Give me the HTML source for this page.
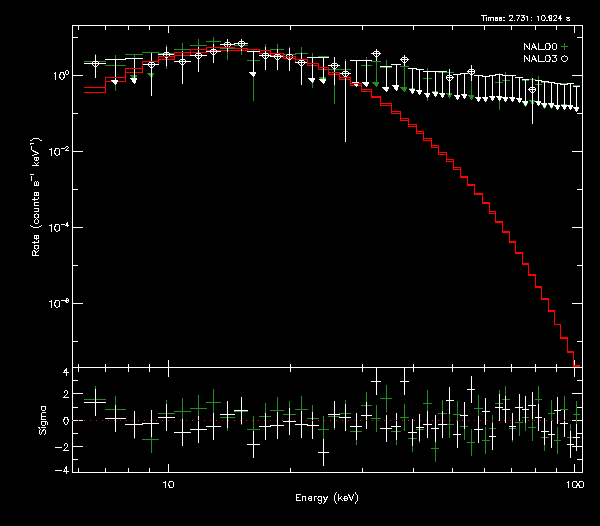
<!DOCTYPE html>
<html><head><meta charset="utf-8"><title>Spectrum</title>
<style>html,body{margin:0;padding:0;background:#000;font-family:"Liberation Sans",sans-serif;}svg{display:block}</style>
</head><body><svg width="600" height="526" viewBox="0 0 600 526" shape-rendering="crispEdges"><rect x="72" y="25" width="511" height="1" fill="#ffffff"/>
<rect x="72" y="367" width="511" height="1" fill="#ffffff"/>
<rect x="72" y="25" width="1" height="343" fill="#ffffff"/>
<rect x="582" y="25" width="1" height="343" fill="#ffffff"/>
<rect x="78" y="25" width="1" height="5" fill="#ffffff"/>
<rect x="78" y="364" width="1" height="4" fill="#ffffff"/>
<rect x="105" y="25" width="1" height="5" fill="#ffffff"/>
<rect x="105" y="364" width="1" height="4" fill="#ffffff"/>
<rect x="128" y="25" width="1" height="5" fill="#ffffff"/>
<rect x="128" y="364" width="1" height="4" fill="#ffffff"/>
<rect x="149" y="25" width="1" height="5" fill="#ffffff"/>
<rect x="149" y="364" width="1" height="4" fill="#ffffff"/>
<rect x="168" y="25" width="1" height="8" fill="#ffffff"/>
<rect x="168" y="360" width="1" height="8" fill="#ffffff"/>
<rect x="290" y="25" width="1" height="5" fill="#ffffff"/>
<rect x="290" y="364" width="1" height="4" fill="#ffffff"/>
<rect x="362" y="25" width="1" height="5" fill="#ffffff"/>
<rect x="362" y="364" width="1" height="4" fill="#ffffff"/>
<rect x="413" y="25" width="1" height="5" fill="#ffffff"/>
<rect x="413" y="364" width="1" height="4" fill="#ffffff"/>
<rect x="452" y="25" width="1" height="5" fill="#ffffff"/>
<rect x="452" y="364" width="1" height="4" fill="#ffffff"/>
<rect x="484" y="25" width="1" height="5" fill="#ffffff"/>
<rect x="484" y="364" width="1" height="4" fill="#ffffff"/>
<rect x="511" y="25" width="1" height="5" fill="#ffffff"/>
<rect x="511" y="364" width="1" height="4" fill="#ffffff"/>
<rect x="535" y="25" width="1" height="5" fill="#ffffff"/>
<rect x="535" y="364" width="1" height="4" fill="#ffffff"/>
<rect x="556" y="25" width="1" height="5" fill="#ffffff"/>
<rect x="556" y="364" width="1" height="4" fill="#ffffff"/>
<rect x="574" y="25" width="1" height="8" fill="#ffffff"/>
<rect x="574" y="360" width="1" height="8" fill="#ffffff"/>
<rect x="72" y="341" width="6" height="1" fill="#ffffff"/>
<rect x="577" y="341" width="6" height="1" fill="#ffffff"/>
<rect x="72" y="303" width="11" height="1" fill="#ffffff"/>
<rect x="572" y="303" width="11" height="1" fill="#ffffff"/>
<rect x="72" y="265" width="6" height="1" fill="#ffffff"/>
<rect x="577" y="265" width="6" height="1" fill="#ffffff"/>
<rect x="72" y="227" width="11" height="1" fill="#ffffff"/>
<rect x="572" y="227" width="11" height="1" fill="#ffffff"/>
<rect x="72" y="189" width="6" height="1" fill="#ffffff"/>
<rect x="577" y="189" width="6" height="1" fill="#ffffff"/>
<rect x="72" y="151" width="11" height="1" fill="#ffffff"/>
<rect x="572" y="151" width="11" height="1" fill="#ffffff"/>
<rect x="72" y="113" width="6" height="1" fill="#ffffff"/>
<rect x="577" y="113" width="6" height="1" fill="#ffffff"/>
<rect x="72" y="75" width="11" height="1" fill="#ffffff"/>
<rect x="572" y="75" width="11" height="1" fill="#ffffff"/>
<rect x="72" y="37" width="6" height="1" fill="#ffffff"/>
<rect x="577" y="37" width="6" height="1" fill="#ffffff"/>
<rect x="84" y="61" width="22" height="1" fill="#228b22"/>
<rect x="95" y="54" width="1" height="23" fill="#228b22"/>
<rect x="92" y="61" width="7" height="1" fill="#228b22"/>
<rect x="95" y="58" width="1" height="7" fill="#228b22"/>
<rect x="105" y="65" width="21" height="1" fill="#228b22"/>
<rect x="115" y="55" width="1" height="36" fill="#228b22"/>
<rect x="112" y="65" width="7" height="1" fill="#228b22"/>
<rect x="115" y="62" width="1" height="7" fill="#228b22"/>
<rect x="125" y="54" width="18" height="1" fill="#228b22"/>
<rect x="134" y="54" width="1" height="26" fill="#228b22"/>
<rect x="134" y="79" width="1" height="1" fill="#228b22"/>
<rect x="133" y="78" width="3" height="1" fill="#228b22"/>
<rect x="132" y="77" width="4" height="1" fill="#228b22"/>
<rect x="131" y="76" width="6" height="1" fill="#228b22"/>
<rect x="130" y="75" width="7" height="1" fill="#228b22"/>
<rect x="142" y="52" width="17" height="1" fill="#228b22"/>
<rect x="151" y="52" width="1" height="26" fill="#228b22"/>
<rect x="151" y="77" width="1" height="1" fill="#228b22"/>
<rect x="150" y="76" width="3" height="1" fill="#228b22"/>
<rect x="149" y="75" width="4" height="1" fill="#228b22"/>
<rect x="148" y="74" width="6" height="1" fill="#228b22"/>
<rect x="147" y="73" width="7" height="1" fill="#228b22"/>
<rect x="158" y="53" width="17" height="1" fill="#228b22"/>
<rect x="166" y="45" width="1" height="24" fill="#228b22"/>
<rect x="163" y="53" width="7" height="1" fill="#228b22"/>
<rect x="166" y="50" width="1" height="7" fill="#228b22"/>
<rect x="174" y="49" width="17" height="1" fill="#228b22"/>
<rect x="182" y="43" width="1" height="15" fill="#228b22"/>
<rect x="179" y="49" width="7" height="1" fill="#228b22"/>
<rect x="182" y="46" width="1" height="7" fill="#228b22"/>
<rect x="190" y="45" width="17" height="1" fill="#228b22"/>
<rect x="198" y="39" width="1" height="15" fill="#228b22"/>
<rect x="195" y="45" width="7" height="1" fill="#228b22"/>
<rect x="198" y="42" width="1" height="7" fill="#228b22"/>
<rect x="206" y="41" width="15" height="1" fill="#228b22"/>
<rect x="213" y="37" width="1" height="11" fill="#228b22"/>
<rect x="210" y="41" width="7" height="1" fill="#228b22"/>
<rect x="213" y="38" width="1" height="7" fill="#228b22"/>
<rect x="220" y="48" width="15" height="1" fill="#228b22"/>
<rect x="227" y="42" width="1" height="18" fill="#228b22"/>
<rect x="224" y="48" width="7" height="1" fill="#228b22"/>
<rect x="227" y="45" width="1" height="7" fill="#228b22"/>
<rect x="234" y="45" width="14" height="1" fill="#228b22"/>
<rect x="241" y="40" width="1" height="15" fill="#228b22"/>
<rect x="238" y="45" width="7" height="1" fill="#228b22"/>
<rect x="241" y="42" width="1" height="7" fill="#228b22"/>
<rect x="247" y="60" width="13" height="1" fill="#228b22"/>
<rect x="253" y="50" width="1" height="51" fill="#228b22"/>
<rect x="250" y="60" width="7" height="1" fill="#228b22"/>
<rect x="253" y="57" width="1" height="7" fill="#228b22"/>
<rect x="259" y="50" width="12" height="1" fill="#228b22"/>
<rect x="265" y="44" width="1" height="17" fill="#228b22"/>
<rect x="262" y="50" width="7" height="1" fill="#228b22"/>
<rect x="265" y="47" width="1" height="7" fill="#228b22"/>
<rect x="270" y="49" width="14" height="1" fill="#228b22"/>
<rect x="277" y="44" width="1" height="13" fill="#228b22"/>
<rect x="274" y="49" width="7" height="1" fill="#228b22"/>
<rect x="277" y="46" width="1" height="7" fill="#228b22"/>
<rect x="283" y="54" width="13" height="1" fill="#228b22"/>
<rect x="289" y="47" width="1" height="18" fill="#228b22"/>
<rect x="286" y="54" width="7" height="1" fill="#228b22"/>
<rect x="289" y="51" width="1" height="7" fill="#228b22"/>
<rect x="295" y="53" width="13" height="1" fill="#228b22"/>
<rect x="301" y="47" width="1" height="16" fill="#228b22"/>
<rect x="298" y="53" width="7" height="1" fill="#228b22"/>
<rect x="301" y="50" width="1" height="7" fill="#228b22"/>
<rect x="307" y="63" width="12" height="1" fill="#228b22"/>
<rect x="312" y="53" width="1" height="35" fill="#228b22"/>
<rect x="309" y="63" width="7" height="1" fill="#228b22"/>
<rect x="312" y="60" width="1" height="7" fill="#228b22"/>
<rect x="318" y="56" width="11" height="1" fill="#228b22"/>
<rect x="323" y="56" width="1" height="26" fill="#228b22"/>
<rect x="323" y="81" width="1" height="1" fill="#228b22"/>
<rect x="322" y="80" width="3" height="1" fill="#228b22"/>
<rect x="321" y="79" width="4" height="1" fill="#228b22"/>
<rect x="320" y="78" width="6" height="1" fill="#228b22"/>
<rect x="319" y="77" width="7" height="1" fill="#228b22"/>
<rect x="328" y="69" width="12" height="1" fill="#228b22"/>
<rect x="334" y="57" width="1" height="47" fill="#228b22"/>
<rect x="331" y="69" width="7" height="1" fill="#228b22"/>
<rect x="334" y="66" width="1" height="7" fill="#228b22"/>
<rect x="339" y="69" width="12" height="1" fill="#228b22"/>
<rect x="345" y="59" width="1" height="27" fill="#228b22"/>
<rect x="342" y="69" width="7" height="1" fill="#228b22"/>
<rect x="345" y="66" width="1" height="7" fill="#228b22"/>
<rect x="361" y="65" width="11" height="1" fill="#228b22"/>
<rect x="366" y="57" width="1" height="24" fill="#228b22"/>
<rect x="363" y="65" width="7" height="1" fill="#228b22"/>
<rect x="366" y="62" width="1" height="7" fill="#228b22"/>
<rect x="371" y="61" width="10" height="1" fill="#228b22"/>
<rect x="376" y="61" width="1" height="26" fill="#228b22"/>
<rect x="376" y="86" width="1" height="1" fill="#228b22"/>
<rect x="375" y="85" width="3" height="1" fill="#228b22"/>
<rect x="374" y="84" width="4" height="1" fill="#228b22"/>
<rect x="373" y="83" width="6" height="1" fill="#228b22"/>
<rect x="372" y="82" width="7" height="1" fill="#228b22"/>
<rect x="380" y="67" width="12" height="1" fill="#228b22"/>
<rect x="386" y="60" width="1" height="26" fill="#228b22"/>
<rect x="383" y="67" width="7" height="1" fill="#228b22"/>
<rect x="386" y="64" width="1" height="7" fill="#228b22"/>
<rect x="400" y="66" width="9" height="1" fill="#228b22"/>
<rect x="404" y="66" width="1" height="26" fill="#228b22"/>
<rect x="404" y="91" width="1" height="1" fill="#228b22"/>
<rect x="403" y="90" width="3" height="1" fill="#228b22"/>
<rect x="402" y="89" width="4" height="1" fill="#228b22"/>
<rect x="401" y="88" width="6" height="1" fill="#228b22"/>
<rect x="400" y="87" width="7" height="1" fill="#228b22"/>
<rect x="412" y="69" width="1" height="24" fill="#228b22"/>
<rect x="412" y="92" width="1" height="1" fill="#228b22"/>
<rect x="411" y="91" width="3" height="1" fill="#228b22"/>
<rect x="411" y="90" width="3" height="1" fill="#228b22"/>
<rect x="410" y="89" width="5" height="1" fill="#228b22"/>
<rect x="409" y="88" width="6" height="1" fill="#228b22"/>
<rect x="423" y="78" width="9" height="1" fill="#228b22"/>
<rect x="427" y="68" width="1" height="33" fill="#228b22"/>
<rect x="424" y="78" width="7" height="1" fill="#228b22"/>
<rect x="427" y="75" width="1" height="7" fill="#228b22"/>
<rect x="435" y="72" width="1" height="24" fill="#228b22"/>
<rect x="435" y="95" width="1" height="1" fill="#228b22"/>
<rect x="434" y="94" width="3" height="1" fill="#228b22"/>
<rect x="434" y="93" width="3" height="1" fill="#228b22"/>
<rect x="433" y="92" width="5" height="1" fill="#228b22"/>
<rect x="432" y="91" width="6" height="1" fill="#228b22"/>
<rect x="438" y="72" width="9" height="1" fill="#228b22"/>
<rect x="442" y="72" width="1" height="26" fill="#228b22"/>
<rect x="442" y="97" width="1" height="1" fill="#228b22"/>
<rect x="441" y="96" width="3" height="1" fill="#228b22"/>
<rect x="441" y="95" width="3" height="1" fill="#228b22"/>
<rect x="440" y="94" width="5" height="1" fill="#228b22"/>
<rect x="439" y="93" width="6" height="1" fill="#228b22"/>
<rect x="446" y="72" width="8" height="1" fill="#228b22"/>
<rect x="449" y="72" width="1" height="26" fill="#228b22"/>
<rect x="449" y="97" width="1" height="1" fill="#228b22"/>
<rect x="448" y="96" width="3" height="1" fill="#228b22"/>
<rect x="448" y="95" width="3" height="1" fill="#228b22"/>
<rect x="447" y="94" width="5" height="1" fill="#228b22"/>
<rect x="446" y="93" width="6" height="1" fill="#228b22"/>
<rect x="467" y="73" width="8" height="1" fill="#228b22"/>
<rect x="471" y="73" width="1" height="27" fill="#228b22"/>
<rect x="471" y="99" width="1" height="1" fill="#228b22"/>
<rect x="470" y="98" width="3" height="1" fill="#228b22"/>
<rect x="470" y="97" width="3" height="1" fill="#228b22"/>
<rect x="469" y="96" width="5" height="1" fill="#228b22"/>
<rect x="468" y="95" width="6" height="1" fill="#228b22"/>
<rect x="495" y="82" width="8" height="1" fill="#228b22"/>
<rect x="499" y="73" width="1" height="37" fill="#228b22"/>
<rect x="496" y="82" width="7" height="1" fill="#228b22"/>
<rect x="499" y="79" width="1" height="7" fill="#228b22"/>
<rect x="502" y="80" width="8" height="1" fill="#228b22"/>
<rect x="505" y="72" width="1" height="29" fill="#228b22"/>
<rect x="502" y="80" width="7" height="1" fill="#228b22"/>
<rect x="505" y="77" width="1" height="7" fill="#228b22"/>
<rect x="522" y="80" width="7" height="1" fill="#228b22"/>
<rect x="525" y="80" width="1" height="27" fill="#228b22"/>
<rect x="525" y="106" width="1" height="1" fill="#228b22"/>
<rect x="524" y="105" width="3" height="1" fill="#228b22"/>
<rect x="524" y="104" width="3" height="1" fill="#228b22"/>
<rect x="523" y="103" width="5" height="1" fill="#228b22"/>
<rect x="522" y="102" width="6" height="1" fill="#228b22"/>
<rect x="528" y="79" width="8" height="1" fill="#228b22"/>
<rect x="532" y="79" width="1" height="26" fill="#228b22"/>
<rect x="532" y="104" width="1" height="1" fill="#228b22"/>
<rect x="531" y="103" width="3" height="1" fill="#228b22"/>
<rect x="531" y="102" width="3" height="1" fill="#228b22"/>
<rect x="530" y="101" width="5" height="1" fill="#228b22"/>
<rect x="529" y="100" width="6" height="1" fill="#228b22"/>
<rect x="535" y="84" width="7" height="1" fill="#228b22"/>
<rect x="538" y="76" width="1" height="25" fill="#228b22"/>
<rect x="535" y="84" width="7" height="1" fill="#228b22"/>
<rect x="538" y="81" width="1" height="7" fill="#228b22"/>
<rect x="541" y="82" width="8" height="1" fill="#228b22"/>
<rect x="544" y="82" width="1" height="27" fill="#228b22"/>
<rect x="544" y="108" width="1" height="1" fill="#228b22"/>
<rect x="543" y="107" width="3" height="1" fill="#228b22"/>
<rect x="543" y="106" width="3" height="1" fill="#228b22"/>
<rect x="542" y="105" width="5" height="1" fill="#228b22"/>
<rect x="541" y="104" width="6" height="1" fill="#228b22"/>
<rect x="551" y="84" width="1" height="25" fill="#228b22"/>
<rect x="551" y="108" width="1" height="1" fill="#228b22"/>
<rect x="550" y="107" width="3" height="1" fill="#228b22"/>
<rect x="550" y="106" width="3" height="1" fill="#228b22"/>
<rect x="549" y="105" width="5" height="1" fill="#228b22"/>
<rect x="548" y="104" width="6" height="1" fill="#228b22"/>
<rect x="560" y="83" width="8" height="1" fill="#228b22"/>
<rect x="564" y="83" width="1" height="26" fill="#228b22"/>
<rect x="564" y="108" width="1" height="1" fill="#228b22"/>
<rect x="563" y="107" width="3" height="1" fill="#228b22"/>
<rect x="563" y="106" width="3" height="1" fill="#228b22"/>
<rect x="562" y="105" width="5" height="1" fill="#228b22"/>
<rect x="561" y="104" width="6" height="1" fill="#228b22"/>
<rect x="573" y="85" width="7" height="1" fill="#228b22"/>
<rect x="576" y="85" width="1" height="27" fill="#228b22"/>
<rect x="576" y="111" width="1" height="1" fill="#228b22"/>
<rect x="575" y="110" width="3" height="1" fill="#228b22"/>
<rect x="575" y="109" width="3" height="1" fill="#228b22"/>
<rect x="574" y="108" width="5" height="1" fill="#228b22"/>
<rect x="573" y="107" width="6" height="1" fill="#228b22"/>
<rect x="84" y="92" width="22" height="1" fill="#ff0000"/>
<rect x="105" y="81" width="1" height="12" fill="#ff0000"/>
<rect x="105" y="81" width="21" height="1" fill="#ff0000"/>
<rect x="125" y="72" width="1" height="10" fill="#ff0000"/>
<rect x="125" y="72" width="18" height="1" fill="#ff0000"/>
<rect x="142" y="64" width="1" height="9" fill="#ff0000"/>
<rect x="142" y="64" width="17" height="1" fill="#ff0000"/>
<rect x="158" y="59" width="1" height="6" fill="#ff0000"/>
<rect x="158" y="59" width="17" height="1" fill="#ff0000"/>
<rect x="174" y="55" width="1" height="5" fill="#ff0000"/>
<rect x="174" y="55" width="17" height="1" fill="#ff0000"/>
<rect x="190" y="52" width="1" height="4" fill="#ff0000"/>
<rect x="190" y="52" width="17" height="1" fill="#ff0000"/>
<rect x="206" y="50" width="1" height="3" fill="#ff0000"/>
<rect x="206" y="50" width="15" height="1" fill="#ff0000"/>
<rect x="220" y="50" width="1" height="1" fill="#ff0000"/>
<rect x="220" y="50" width="15" height="1" fill="#ff0000"/>
<rect x="234" y="50" width="1" height="1" fill="#ff0000"/>
<rect x="234" y="50" width="14" height="1" fill="#ff0000"/>
<rect x="247" y="50" width="1" height="2" fill="#ff0000"/>
<rect x="247" y="51" width="13" height="1" fill="#ff0000"/>
<rect x="259" y="51" width="1" height="3" fill="#ff0000"/>
<rect x="259" y="53" width="12" height="1" fill="#ff0000"/>
<rect x="270" y="53" width="1" height="3" fill="#ff0000"/>
<rect x="270" y="55" width="14" height="1" fill="#ff0000"/>
<rect x="283" y="55" width="1" height="4" fill="#ff0000"/>
<rect x="283" y="58" width="13" height="1" fill="#ff0000"/>
<rect x="295" y="58" width="1" height="5" fill="#ff0000"/>
<rect x="295" y="62" width="13" height="1" fill="#ff0000"/>
<rect x="307" y="62" width="1" height="4" fill="#ff0000"/>
<rect x="307" y="65" width="12" height="1" fill="#ff0000"/>
<rect x="318" y="65" width="1" height="5" fill="#ff0000"/>
<rect x="318" y="69" width="11" height="1" fill="#ff0000"/>
<rect x="328" y="69" width="1" height="6" fill="#ff0000"/>
<rect x="328" y="74" width="12" height="1" fill="#ff0000"/>
<rect x="339" y="74" width="1" height="6" fill="#ff0000"/>
<rect x="339" y="79" width="12" height="1" fill="#ff0000"/>
<rect x="350" y="79" width="1" height="7" fill="#ff0000"/>
<rect x="350" y="85" width="12" height="1" fill="#ff0000"/>
<rect x="361" y="85" width="1" height="7" fill="#ff0000"/>
<rect x="361" y="91" width="11" height="1" fill="#ff0000"/>
<rect x="371" y="91" width="1" height="7" fill="#ff0000"/>
<rect x="371" y="97" width="10" height="1" fill="#ff0000"/>
<rect x="380" y="97" width="1" height="9" fill="#ff0000"/>
<rect x="380" y="105" width="12" height="1" fill="#ff0000"/>
<rect x="391" y="105" width="1" height="9" fill="#ff0000"/>
<rect x="391" y="113" width="10" height="1" fill="#ff0000"/>
<rect x="400" y="113" width="1" height="8" fill="#ff0000"/>
<rect x="400" y="120" width="9" height="1" fill="#ff0000"/>
<rect x="408" y="120" width="1" height="7" fill="#ff0000"/>
<rect x="408" y="126" width="9" height="1" fill="#ff0000"/>
<rect x="416" y="126" width="1" height="8" fill="#ff0000"/>
<rect x="416" y="133" width="8" height="1" fill="#ff0000"/>
<rect x="423" y="133" width="1" height="8" fill="#ff0000"/>
<rect x="423" y="140" width="9" height="1" fill="#ff0000"/>
<rect x="431" y="140" width="1" height="8" fill="#ff0000"/>
<rect x="431" y="147" width="8" height="1" fill="#ff0000"/>
<rect x="438" y="147" width="1" height="8" fill="#ff0000"/>
<rect x="438" y="154" width="9" height="1" fill="#ff0000"/>
<rect x="446" y="154" width="1" height="8" fill="#ff0000"/>
<rect x="446" y="161" width="8" height="1" fill="#ff0000"/>
<rect x="453" y="161" width="1" height="9" fill="#ff0000"/>
<rect x="453" y="169" width="8" height="1" fill="#ff0000"/>
<rect x="460" y="169" width="1" height="9" fill="#ff0000"/>
<rect x="460" y="177" width="8" height="1" fill="#ff0000"/>
<rect x="467" y="177" width="1" height="9" fill="#ff0000"/>
<rect x="467" y="185" width="8" height="1" fill="#ff0000"/>
<rect x="474" y="185" width="1" height="10" fill="#ff0000"/>
<rect x="474" y="194" width="9" height="1" fill="#ff0000"/>
<rect x="482" y="194" width="1" height="10" fill="#ff0000"/>
<rect x="482" y="203" width="8" height="1" fill="#ff0000"/>
<rect x="489" y="203" width="1" height="11" fill="#ff0000"/>
<rect x="489" y="213" width="7" height="1" fill="#ff0000"/>
<rect x="495" y="213" width="1" height="10" fill="#ff0000"/>
<rect x="495" y="222" width="8" height="1" fill="#ff0000"/>
<rect x="502" y="222" width="1" height="11" fill="#ff0000"/>
<rect x="502" y="232" width="8" height="1" fill="#ff0000"/>
<rect x="509" y="232" width="1" height="11" fill="#ff0000"/>
<rect x="509" y="242" width="7" height="1" fill="#ff0000"/>
<rect x="515" y="242" width="1" height="12" fill="#ff0000"/>
<rect x="515" y="253" width="8" height="1" fill="#ff0000"/>
<rect x="522" y="253" width="1" height="12" fill="#ff0000"/>
<rect x="522" y="264" width="7" height="1" fill="#ff0000"/>
<rect x="528" y="264" width="1" height="12" fill="#ff0000"/>
<rect x="528" y="275" width="8" height="1" fill="#ff0000"/>
<rect x="535" y="275" width="1" height="13" fill="#ff0000"/>
<rect x="535" y="287" width="7" height="1" fill="#ff0000"/>
<rect x="541" y="287" width="1" height="13" fill="#ff0000"/>
<rect x="541" y="299" width="8" height="1" fill="#ff0000"/>
<rect x="548" y="299" width="1" height="13" fill="#ff0000"/>
<rect x="548" y="311" width="7" height="1" fill="#ff0000"/>
<rect x="554" y="311" width="1" height="14" fill="#ff0000"/>
<rect x="554" y="324" width="7" height="1" fill="#ff0000"/>
<rect x="560" y="324" width="1" height="15" fill="#ff0000"/>
<rect x="560" y="338" width="8" height="1" fill="#ff0000"/>
<rect x="567" y="338" width="1" height="15" fill="#ff0000"/>
<rect x="567" y="352" width="7" height="1" fill="#ff0000"/>
<rect x="573" y="352" width="1" height="15" fill="#ff0000"/>
<rect x="573" y="366" width="7" height="1" fill="#ff0000"/>
<rect x="84" y="63" width="22" height="1" fill="#ffffff"/>
<rect x="95" y="55" width="1" height="23" fill="#ffffff"/>
<rect x="95" y="60" width="1" height="1" fill="#ffffff"/>
<rect x="93" y="61" width="1" height="1" fill="#ffffff"/>
<rect x="94" y="61" width="1" height="1" fill="#ffffff"/>
<rect x="96" y="61" width="1" height="1" fill="#ffffff"/>
<rect x="97" y="61" width="1" height="1" fill="#ffffff"/>
<rect x="92" y="62" width="1" height="1" fill="#ffffff"/>
<rect x="98" y="62" width="1" height="1" fill="#ffffff"/>
<rect x="92" y="63" width="1" height="1" fill="#ffffff"/>
<rect x="98" y="63" width="1" height="1" fill="#ffffff"/>
<rect x="92" y="64" width="1" height="1" fill="#ffffff"/>
<rect x="98" y="64" width="1" height="1" fill="#ffffff"/>
<rect x="93" y="65" width="1" height="1" fill="#ffffff"/>
<rect x="97" y="65" width="1" height="1" fill="#ffffff"/>
<rect x="94" y="66" width="1" height="1" fill="#ffffff"/>
<rect x="95" y="66" width="1" height="1" fill="#ffffff"/>
<rect x="96" y="66" width="1" height="1" fill="#ffffff"/>
<rect x="105" y="59" width="21" height="1" fill="#ffffff"/>
<rect x="115" y="59" width="1" height="26" fill="#ffffff"/>
<rect x="115" y="84" width="1" height="1" fill="#ffffff"/>
<rect x="114" y="83" width="3" height="1" fill="#ffffff"/>
<rect x="113" y="82" width="4" height="1" fill="#ffffff"/>
<rect x="112" y="81" width="6" height="1" fill="#ffffff"/>
<rect x="111" y="80" width="7" height="1" fill="#ffffff"/>
<rect x="125" y="58" width="18" height="1" fill="#ffffff"/>
<rect x="134" y="58" width="1" height="26" fill="#ffffff"/>
<rect x="134" y="83" width="1" height="1" fill="#ffffff"/>
<rect x="133" y="82" width="3" height="1" fill="#ffffff"/>
<rect x="132" y="81" width="4" height="1" fill="#ffffff"/>
<rect x="132" y="80" width="4" height="1" fill="#ffffff"/>
<rect x="131" y="79" width="6" height="1" fill="#ffffff"/>
<rect x="130" y="78" width="7" height="1" fill="#ffffff"/>
<rect x="142" y="64" width="17" height="1" fill="#ffffff"/>
<rect x="151" y="53" width="1" height="43" fill="#ffffff"/>
<rect x="151" y="61" width="1" height="1" fill="#ffffff"/>
<rect x="149" y="62" width="1" height="1" fill="#ffffff"/>
<rect x="150" y="62" width="1" height="1" fill="#ffffff"/>
<rect x="152" y="62" width="1" height="1" fill="#ffffff"/>
<rect x="153" y="62" width="1" height="1" fill="#ffffff"/>
<rect x="148" y="63" width="1" height="1" fill="#ffffff"/>
<rect x="154" y="63" width="1" height="1" fill="#ffffff"/>
<rect x="148" y="64" width="1" height="1" fill="#ffffff"/>
<rect x="154" y="64" width="1" height="1" fill="#ffffff"/>
<rect x="148" y="65" width="1" height="1" fill="#ffffff"/>
<rect x="154" y="65" width="1" height="1" fill="#ffffff"/>
<rect x="149" y="66" width="1" height="1" fill="#ffffff"/>
<rect x="153" y="66" width="1" height="1" fill="#ffffff"/>
<rect x="150" y="67" width="1" height="1" fill="#ffffff"/>
<rect x="151" y="67" width="1" height="1" fill="#ffffff"/>
<rect x="152" y="67" width="1" height="1" fill="#ffffff"/>
<rect x="158" y="54" width="17" height="1" fill="#ffffff"/>
<rect x="166" y="47" width="1" height="19" fill="#ffffff"/>
<rect x="166" y="51" width="1" height="1" fill="#ffffff"/>
<rect x="164" y="52" width="1" height="1" fill="#ffffff"/>
<rect x="165" y="52" width="1" height="1" fill="#ffffff"/>
<rect x="167" y="52" width="1" height="1" fill="#ffffff"/>
<rect x="168" y="52" width="1" height="1" fill="#ffffff"/>
<rect x="163" y="53" width="1" height="1" fill="#ffffff"/>
<rect x="169" y="53" width="1" height="1" fill="#ffffff"/>
<rect x="163" y="54" width="1" height="1" fill="#ffffff"/>
<rect x="169" y="54" width="1" height="1" fill="#ffffff"/>
<rect x="163" y="55" width="1" height="1" fill="#ffffff"/>
<rect x="169" y="55" width="1" height="1" fill="#ffffff"/>
<rect x="164" y="56" width="1" height="1" fill="#ffffff"/>
<rect x="168" y="56" width="1" height="1" fill="#ffffff"/>
<rect x="165" y="57" width="1" height="1" fill="#ffffff"/>
<rect x="166" y="57" width="1" height="1" fill="#ffffff"/>
<rect x="167" y="57" width="1" height="1" fill="#ffffff"/>
<rect x="174" y="61" width="17" height="1" fill="#ffffff"/>
<rect x="182" y="51" width="1" height="33" fill="#ffffff"/>
<rect x="182" y="58" width="1" height="1" fill="#ffffff"/>
<rect x="180" y="59" width="1" height="1" fill="#ffffff"/>
<rect x="181" y="59" width="1" height="1" fill="#ffffff"/>
<rect x="183" y="59" width="1" height="1" fill="#ffffff"/>
<rect x="184" y="59" width="1" height="1" fill="#ffffff"/>
<rect x="179" y="60" width="1" height="1" fill="#ffffff"/>
<rect x="185" y="60" width="1" height="1" fill="#ffffff"/>
<rect x="179" y="61" width="1" height="1" fill="#ffffff"/>
<rect x="185" y="61" width="1" height="1" fill="#ffffff"/>
<rect x="179" y="62" width="1" height="1" fill="#ffffff"/>
<rect x="185" y="62" width="1" height="1" fill="#ffffff"/>
<rect x="180" y="63" width="1" height="1" fill="#ffffff"/>
<rect x="184" y="63" width="1" height="1" fill="#ffffff"/>
<rect x="181" y="64" width="1" height="1" fill="#ffffff"/>
<rect x="182" y="64" width="1" height="1" fill="#ffffff"/>
<rect x="183" y="64" width="1" height="1" fill="#ffffff"/>
<rect x="190" y="55" width="17" height="1" fill="#ffffff"/>
<rect x="198" y="47" width="1" height="25" fill="#ffffff"/>
<rect x="198" y="52" width="1" height="1" fill="#ffffff"/>
<rect x="196" y="53" width="1" height="1" fill="#ffffff"/>
<rect x="197" y="53" width="1" height="1" fill="#ffffff"/>
<rect x="199" y="53" width="1" height="1" fill="#ffffff"/>
<rect x="200" y="53" width="1" height="1" fill="#ffffff"/>
<rect x="195" y="54" width="1" height="1" fill="#ffffff"/>
<rect x="201" y="54" width="1" height="1" fill="#ffffff"/>
<rect x="195" y="55" width="1" height="1" fill="#ffffff"/>
<rect x="201" y="55" width="1" height="1" fill="#ffffff"/>
<rect x="195" y="56" width="1" height="1" fill="#ffffff"/>
<rect x="201" y="56" width="1" height="1" fill="#ffffff"/>
<rect x="196" y="57" width="1" height="1" fill="#ffffff"/>
<rect x="200" y="57" width="1" height="1" fill="#ffffff"/>
<rect x="197" y="58" width="1" height="1" fill="#ffffff"/>
<rect x="198" y="58" width="1" height="1" fill="#ffffff"/>
<rect x="199" y="58" width="1" height="1" fill="#ffffff"/>
<rect x="206" y="51" width="15" height="1" fill="#ffffff"/>
<rect x="213" y="44" width="1" height="19" fill="#ffffff"/>
<rect x="213" y="48" width="1" height="1" fill="#ffffff"/>
<rect x="211" y="49" width="1" height="1" fill="#ffffff"/>
<rect x="212" y="49" width="1" height="1" fill="#ffffff"/>
<rect x="214" y="49" width="1" height="1" fill="#ffffff"/>
<rect x="215" y="49" width="1" height="1" fill="#ffffff"/>
<rect x="210" y="50" width="1" height="1" fill="#ffffff"/>
<rect x="216" y="50" width="1" height="1" fill="#ffffff"/>
<rect x="210" y="51" width="1" height="1" fill="#ffffff"/>
<rect x="216" y="51" width="1" height="1" fill="#ffffff"/>
<rect x="210" y="52" width="1" height="1" fill="#ffffff"/>
<rect x="216" y="52" width="1" height="1" fill="#ffffff"/>
<rect x="211" y="53" width="1" height="1" fill="#ffffff"/>
<rect x="215" y="53" width="1" height="1" fill="#ffffff"/>
<rect x="212" y="54" width="1" height="1" fill="#ffffff"/>
<rect x="213" y="54" width="1" height="1" fill="#ffffff"/>
<rect x="214" y="54" width="1" height="1" fill="#ffffff"/>
<rect x="220" y="44" width="15" height="1" fill="#ffffff"/>
<rect x="227" y="39" width="1" height="13" fill="#ffffff"/>
<rect x="227" y="41" width="1" height="1" fill="#ffffff"/>
<rect x="225" y="42" width="1" height="1" fill="#ffffff"/>
<rect x="226" y="42" width="1" height="1" fill="#ffffff"/>
<rect x="228" y="42" width="1" height="1" fill="#ffffff"/>
<rect x="229" y="42" width="1" height="1" fill="#ffffff"/>
<rect x="224" y="43" width="1" height="1" fill="#ffffff"/>
<rect x="230" y="43" width="1" height="1" fill="#ffffff"/>
<rect x="224" y="44" width="1" height="1" fill="#ffffff"/>
<rect x="230" y="44" width="1" height="1" fill="#ffffff"/>
<rect x="224" y="45" width="1" height="1" fill="#ffffff"/>
<rect x="230" y="45" width="1" height="1" fill="#ffffff"/>
<rect x="225" y="46" width="1" height="1" fill="#ffffff"/>
<rect x="229" y="46" width="1" height="1" fill="#ffffff"/>
<rect x="226" y="47" width="1" height="1" fill="#ffffff"/>
<rect x="227" y="47" width="1" height="1" fill="#ffffff"/>
<rect x="228" y="47" width="1" height="1" fill="#ffffff"/>
<rect x="234" y="43" width="14" height="1" fill="#ffffff"/>
<rect x="241" y="39" width="1" height="12" fill="#ffffff"/>
<rect x="241" y="40" width="1" height="1" fill="#ffffff"/>
<rect x="239" y="41" width="1" height="1" fill="#ffffff"/>
<rect x="240" y="41" width="1" height="1" fill="#ffffff"/>
<rect x="242" y="41" width="1" height="1" fill="#ffffff"/>
<rect x="243" y="41" width="1" height="1" fill="#ffffff"/>
<rect x="238" y="42" width="1" height="1" fill="#ffffff"/>
<rect x="244" y="42" width="1" height="1" fill="#ffffff"/>
<rect x="238" y="43" width="1" height="1" fill="#ffffff"/>
<rect x="244" y="43" width="1" height="1" fill="#ffffff"/>
<rect x="238" y="44" width="1" height="1" fill="#ffffff"/>
<rect x="244" y="44" width="1" height="1" fill="#ffffff"/>
<rect x="239" y="45" width="1" height="1" fill="#ffffff"/>
<rect x="243" y="45" width="1" height="1" fill="#ffffff"/>
<rect x="240" y="46" width="1" height="1" fill="#ffffff"/>
<rect x="241" y="46" width="1" height="1" fill="#ffffff"/>
<rect x="242" y="46" width="1" height="1" fill="#ffffff"/>
<rect x="247" y="51" width="13" height="1" fill="#ffffff"/>
<rect x="253" y="51" width="1" height="26" fill="#ffffff"/>
<rect x="253" y="76" width="1" height="1" fill="#ffffff"/>
<rect x="252" y="75" width="3" height="1" fill="#ffffff"/>
<rect x="251" y="74" width="4" height="1" fill="#ffffff"/>
<rect x="250" y="73" width="6" height="1" fill="#ffffff"/>
<rect x="249" y="72" width="7" height="1" fill="#ffffff"/>
<rect x="259" y="55" width="12" height="1" fill="#ffffff"/>
<rect x="265" y="47" width="1" height="23" fill="#ffffff"/>
<rect x="265" y="52" width="1" height="1" fill="#ffffff"/>
<rect x="263" y="53" width="1" height="1" fill="#ffffff"/>
<rect x="264" y="53" width="1" height="1" fill="#ffffff"/>
<rect x="266" y="53" width="1" height="1" fill="#ffffff"/>
<rect x="267" y="53" width="1" height="1" fill="#ffffff"/>
<rect x="262" y="54" width="1" height="1" fill="#ffffff"/>
<rect x="268" y="54" width="1" height="1" fill="#ffffff"/>
<rect x="262" y="55" width="1" height="1" fill="#ffffff"/>
<rect x="268" y="55" width="1" height="1" fill="#ffffff"/>
<rect x="262" y="56" width="1" height="1" fill="#ffffff"/>
<rect x="268" y="56" width="1" height="1" fill="#ffffff"/>
<rect x="263" y="57" width="1" height="1" fill="#ffffff"/>
<rect x="267" y="57" width="1" height="1" fill="#ffffff"/>
<rect x="264" y="58" width="1" height="1" fill="#ffffff"/>
<rect x="265" y="58" width="1" height="1" fill="#ffffff"/>
<rect x="266" y="58" width="1" height="1" fill="#ffffff"/>
<rect x="270" y="56" width="14" height="1" fill="#ffffff"/>
<rect x="277" y="49" width="1" height="21" fill="#ffffff"/>
<rect x="277" y="53" width="1" height="1" fill="#ffffff"/>
<rect x="275" y="54" width="1" height="1" fill="#ffffff"/>
<rect x="276" y="54" width="1" height="1" fill="#ffffff"/>
<rect x="278" y="54" width="1" height="1" fill="#ffffff"/>
<rect x="279" y="54" width="1" height="1" fill="#ffffff"/>
<rect x="274" y="55" width="1" height="1" fill="#ffffff"/>
<rect x="280" y="55" width="1" height="1" fill="#ffffff"/>
<rect x="274" y="56" width="1" height="1" fill="#ffffff"/>
<rect x="280" y="56" width="1" height="1" fill="#ffffff"/>
<rect x="274" y="57" width="1" height="1" fill="#ffffff"/>
<rect x="280" y="57" width="1" height="1" fill="#ffffff"/>
<rect x="275" y="58" width="1" height="1" fill="#ffffff"/>
<rect x="279" y="58" width="1" height="1" fill="#ffffff"/>
<rect x="276" y="59" width="1" height="1" fill="#ffffff"/>
<rect x="277" y="59" width="1" height="1" fill="#ffffff"/>
<rect x="278" y="59" width="1" height="1" fill="#ffffff"/>
<rect x="283" y="56" width="13" height="1" fill="#ffffff"/>
<rect x="289" y="48" width="1" height="23" fill="#ffffff"/>
<rect x="289" y="53" width="1" height="1" fill="#ffffff"/>
<rect x="287" y="54" width="1" height="1" fill="#ffffff"/>
<rect x="288" y="54" width="1" height="1" fill="#ffffff"/>
<rect x="290" y="54" width="1" height="1" fill="#ffffff"/>
<rect x="291" y="54" width="1" height="1" fill="#ffffff"/>
<rect x="286" y="55" width="1" height="1" fill="#ffffff"/>
<rect x="292" y="55" width="1" height="1" fill="#ffffff"/>
<rect x="286" y="56" width="1" height="1" fill="#ffffff"/>
<rect x="292" y="56" width="1" height="1" fill="#ffffff"/>
<rect x="286" y="57" width="1" height="1" fill="#ffffff"/>
<rect x="292" y="57" width="1" height="1" fill="#ffffff"/>
<rect x="287" y="58" width="1" height="1" fill="#ffffff"/>
<rect x="291" y="58" width="1" height="1" fill="#ffffff"/>
<rect x="288" y="59" width="1" height="1" fill="#ffffff"/>
<rect x="289" y="59" width="1" height="1" fill="#ffffff"/>
<rect x="290" y="59" width="1" height="1" fill="#ffffff"/>
<rect x="295" y="62" width="13" height="1" fill="#ffffff"/>
<rect x="301" y="53" width="1" height="32" fill="#ffffff"/>
<rect x="301" y="59" width="1" height="1" fill="#ffffff"/>
<rect x="299" y="60" width="1" height="1" fill="#ffffff"/>
<rect x="300" y="60" width="1" height="1" fill="#ffffff"/>
<rect x="302" y="60" width="1" height="1" fill="#ffffff"/>
<rect x="303" y="60" width="1" height="1" fill="#ffffff"/>
<rect x="298" y="61" width="1" height="1" fill="#ffffff"/>
<rect x="304" y="61" width="1" height="1" fill="#ffffff"/>
<rect x="298" y="62" width="1" height="1" fill="#ffffff"/>
<rect x="304" y="62" width="1" height="1" fill="#ffffff"/>
<rect x="298" y="63" width="1" height="1" fill="#ffffff"/>
<rect x="304" y="63" width="1" height="1" fill="#ffffff"/>
<rect x="299" y="64" width="1" height="1" fill="#ffffff"/>
<rect x="303" y="64" width="1" height="1" fill="#ffffff"/>
<rect x="300" y="65" width="1" height="1" fill="#ffffff"/>
<rect x="301" y="65" width="1" height="1" fill="#ffffff"/>
<rect x="302" y="65" width="1" height="1" fill="#ffffff"/>
<rect x="307" y="57" width="12" height="1" fill="#ffffff"/>
<rect x="312" y="57" width="1" height="26" fill="#ffffff"/>
<rect x="312" y="82" width="1" height="1" fill="#ffffff"/>
<rect x="311" y="81" width="3" height="1" fill="#ffffff"/>
<rect x="310" y="80" width="4" height="1" fill="#ffffff"/>
<rect x="309" y="79" width="6" height="1" fill="#ffffff"/>
<rect x="308" y="78" width="7" height="1" fill="#ffffff"/>
<rect x="318" y="57" width="11" height="1" fill="#ffffff"/>
<rect x="323" y="57" width="1" height="27" fill="#ffffff"/>
<rect x="323" y="83" width="1" height="1" fill="#ffffff"/>
<rect x="322" y="82" width="3" height="1" fill="#ffffff"/>
<rect x="321" y="81" width="4" height="1" fill="#ffffff"/>
<rect x="320" y="80" width="6" height="1" fill="#ffffff"/>
<rect x="319" y="79" width="7" height="1" fill="#ffffff"/>
<rect x="328" y="65" width="12" height="1" fill="#ffffff"/>
<rect x="334" y="57" width="1" height="28" fill="#ffffff"/>
<rect x="334" y="62" width="1" height="1" fill="#ffffff"/>
<rect x="332" y="63" width="1" height="1" fill="#ffffff"/>
<rect x="333" y="63" width="1" height="1" fill="#ffffff"/>
<rect x="335" y="63" width="1" height="1" fill="#ffffff"/>
<rect x="336" y="63" width="1" height="1" fill="#ffffff"/>
<rect x="331" y="64" width="1" height="1" fill="#ffffff"/>
<rect x="337" y="64" width="1" height="1" fill="#ffffff"/>
<rect x="331" y="65" width="1" height="1" fill="#ffffff"/>
<rect x="337" y="65" width="1" height="1" fill="#ffffff"/>
<rect x="331" y="66" width="1" height="1" fill="#ffffff"/>
<rect x="337" y="66" width="1" height="1" fill="#ffffff"/>
<rect x="332" y="67" width="1" height="1" fill="#ffffff"/>
<rect x="336" y="67" width="1" height="1" fill="#ffffff"/>
<rect x="333" y="68" width="1" height="1" fill="#ffffff"/>
<rect x="334" y="68" width="1" height="1" fill="#ffffff"/>
<rect x="335" y="68" width="1" height="1" fill="#ffffff"/>
<rect x="339" y="73" width="12" height="1" fill="#ffffff"/>
<rect x="345" y="61" width="1" height="81" fill="#ffffff"/>
<rect x="345" y="70" width="1" height="1" fill="#ffffff"/>
<rect x="343" y="71" width="1" height="1" fill="#ffffff"/>
<rect x="344" y="71" width="1" height="1" fill="#ffffff"/>
<rect x="346" y="71" width="1" height="1" fill="#ffffff"/>
<rect x="347" y="71" width="1" height="1" fill="#ffffff"/>
<rect x="342" y="72" width="1" height="1" fill="#ffffff"/>
<rect x="348" y="72" width="1" height="1" fill="#ffffff"/>
<rect x="342" y="73" width="1" height="1" fill="#ffffff"/>
<rect x="348" y="73" width="1" height="1" fill="#ffffff"/>
<rect x="342" y="74" width="1" height="1" fill="#ffffff"/>
<rect x="348" y="74" width="1" height="1" fill="#ffffff"/>
<rect x="343" y="75" width="1" height="1" fill="#ffffff"/>
<rect x="347" y="75" width="1" height="1" fill="#ffffff"/>
<rect x="344" y="76" width="1" height="1" fill="#ffffff"/>
<rect x="345" y="76" width="1" height="1" fill="#ffffff"/>
<rect x="346" y="76" width="1" height="1" fill="#ffffff"/>
<rect x="350" y="60" width="12" height="1" fill="#ffffff"/>
<rect x="356" y="60" width="1" height="27" fill="#ffffff"/>
<rect x="356" y="86" width="1" height="1" fill="#ffffff"/>
<rect x="355" y="85" width="3" height="1" fill="#ffffff"/>
<rect x="354" y="84" width="4" height="1" fill="#ffffff"/>
<rect x="353" y="83" width="6" height="1" fill="#ffffff"/>
<rect x="352" y="82" width="7" height="1" fill="#ffffff"/>
<rect x="361" y="60" width="11" height="1" fill="#ffffff"/>
<rect x="366" y="60" width="1" height="27" fill="#ffffff"/>
<rect x="366" y="86" width="1" height="1" fill="#ffffff"/>
<rect x="365" y="85" width="3" height="1" fill="#ffffff"/>
<rect x="364" y="84" width="4" height="1" fill="#ffffff"/>
<rect x="363" y="83" width="6" height="1" fill="#ffffff"/>
<rect x="362" y="82" width="7" height="1" fill="#ffffff"/>
<rect x="371" y="53" width="10" height="1" fill="#ffffff"/>
<rect x="376" y="49" width="1" height="12" fill="#ffffff"/>
<rect x="376" y="50" width="1" height="1" fill="#ffffff"/>
<rect x="374" y="51" width="1" height="1" fill="#ffffff"/>
<rect x="375" y="51" width="1" height="1" fill="#ffffff"/>
<rect x="377" y="51" width="1" height="1" fill="#ffffff"/>
<rect x="378" y="51" width="1" height="1" fill="#ffffff"/>
<rect x="373" y="52" width="1" height="1" fill="#ffffff"/>
<rect x="379" y="52" width="1" height="1" fill="#ffffff"/>
<rect x="373" y="53" width="1" height="1" fill="#ffffff"/>
<rect x="379" y="53" width="1" height="1" fill="#ffffff"/>
<rect x="373" y="54" width="1" height="1" fill="#ffffff"/>
<rect x="379" y="54" width="1" height="1" fill="#ffffff"/>
<rect x="374" y="55" width="1" height="1" fill="#ffffff"/>
<rect x="378" y="55" width="1" height="1" fill="#ffffff"/>
<rect x="375" y="56" width="1" height="1" fill="#ffffff"/>
<rect x="376" y="56" width="1" height="1" fill="#ffffff"/>
<rect x="377" y="56" width="1" height="1" fill="#ffffff"/>
<rect x="380" y="66" width="12" height="1" fill="#ffffff"/>
<rect x="386" y="66" width="1" height="26" fill="#ffffff"/>
<rect x="386" y="91" width="1" height="1" fill="#ffffff"/>
<rect x="385" y="90" width="3" height="1" fill="#ffffff"/>
<rect x="384" y="89" width="4" height="1" fill="#ffffff"/>
<rect x="383" y="88" width="6" height="1" fill="#ffffff"/>
<rect x="382" y="87" width="7" height="1" fill="#ffffff"/>
<rect x="391" y="64" width="10" height="1" fill="#ffffff"/>
<rect x="396" y="64" width="1" height="27" fill="#ffffff"/>
<rect x="396" y="90" width="1" height="1" fill="#ffffff"/>
<rect x="395" y="89" width="3" height="1" fill="#ffffff"/>
<rect x="394" y="88" width="4" height="1" fill="#ffffff"/>
<rect x="394" y="87" width="4" height="1" fill="#ffffff"/>
<rect x="393" y="86" width="6" height="1" fill="#ffffff"/>
<rect x="392" y="85" width="7" height="1" fill="#ffffff"/>
<rect x="400" y="59" width="9" height="1" fill="#ffffff"/>
<rect x="404" y="55" width="1" height="11" fill="#ffffff"/>
<rect x="404" y="56" width="1" height="1" fill="#ffffff"/>
<rect x="402" y="57" width="1" height="1" fill="#ffffff"/>
<rect x="403" y="57" width="1" height="1" fill="#ffffff"/>
<rect x="405" y="57" width="1" height="1" fill="#ffffff"/>
<rect x="406" y="57" width="1" height="1" fill="#ffffff"/>
<rect x="401" y="58" width="1" height="1" fill="#ffffff"/>
<rect x="407" y="58" width="1" height="1" fill="#ffffff"/>
<rect x="401" y="59" width="1" height="1" fill="#ffffff"/>
<rect x="407" y="59" width="1" height="1" fill="#ffffff"/>
<rect x="401" y="60" width="1" height="1" fill="#ffffff"/>
<rect x="407" y="60" width="1" height="1" fill="#ffffff"/>
<rect x="402" y="61" width="1" height="1" fill="#ffffff"/>
<rect x="406" y="61" width="1" height="1" fill="#ffffff"/>
<rect x="403" y="62" width="1" height="1" fill="#ffffff"/>
<rect x="404" y="62" width="1" height="1" fill="#ffffff"/>
<rect x="405" y="62" width="1" height="1" fill="#ffffff"/>
<rect x="408" y="68" width="9" height="1" fill="#ffffff"/>
<rect x="412" y="68" width="1" height="26" fill="#ffffff"/>
<rect x="412" y="93" width="1" height="1" fill="#ffffff"/>
<rect x="411" y="92" width="3" height="1" fill="#ffffff"/>
<rect x="411" y="91" width="3" height="1" fill="#ffffff"/>
<rect x="410" y="90" width="5" height="1" fill="#ffffff"/>
<rect x="409" y="89" width="6" height="1" fill="#ffffff"/>
<rect x="416" y="69" width="8" height="1" fill="#ffffff"/>
<rect x="419" y="69" width="1" height="26" fill="#ffffff"/>
<rect x="419" y="94" width="1" height="1" fill="#ffffff"/>
<rect x="418" y="93" width="3" height="1" fill="#ffffff"/>
<rect x="418" y="92" width="3" height="1" fill="#ffffff"/>
<rect x="417" y="91" width="5" height="1" fill="#ffffff"/>
<rect x="416" y="90" width="6" height="1" fill="#ffffff"/>
<rect x="423" y="71" width="9" height="1" fill="#ffffff"/>
<rect x="427" y="71" width="1" height="27" fill="#ffffff"/>
<rect x="427" y="97" width="1" height="1" fill="#ffffff"/>
<rect x="426" y="96" width="3" height="1" fill="#ffffff"/>
<rect x="426" y="95" width="3" height="1" fill="#ffffff"/>
<rect x="425" y="94" width="5" height="1" fill="#ffffff"/>
<rect x="424" y="93" width="6" height="1" fill="#ffffff"/>
<rect x="431" y="71" width="8" height="1" fill="#ffffff"/>
<rect x="435" y="71" width="1" height="26" fill="#ffffff"/>
<rect x="435" y="96" width="1" height="1" fill="#ffffff"/>
<rect x="434" y="95" width="3" height="1" fill="#ffffff"/>
<rect x="434" y="94" width="3" height="1" fill="#ffffff"/>
<rect x="433" y="93" width="5" height="1" fill="#ffffff"/>
<rect x="432" y="92" width="6" height="1" fill="#ffffff"/>
<rect x="438" y="71" width="9" height="1" fill="#ffffff"/>
<rect x="442" y="71" width="1" height="27" fill="#ffffff"/>
<rect x="442" y="97" width="1" height="1" fill="#ffffff"/>
<rect x="441" y="96" width="3" height="1" fill="#ffffff"/>
<rect x="441" y="95" width="3" height="1" fill="#ffffff"/>
<rect x="440" y="94" width="5" height="1" fill="#ffffff"/>
<rect x="439" y="93" width="6" height="1" fill="#ffffff"/>
<rect x="446" y="77" width="8" height="1" fill="#ffffff"/>
<rect x="449" y="69" width="1" height="26" fill="#ffffff"/>
<rect x="449" y="74" width="1" height="1" fill="#ffffff"/>
<rect x="447" y="75" width="1" height="1" fill="#ffffff"/>
<rect x="448" y="75" width="1" height="1" fill="#ffffff"/>
<rect x="450" y="75" width="1" height="1" fill="#ffffff"/>
<rect x="451" y="75" width="1" height="1" fill="#ffffff"/>
<rect x="446" y="76" width="1" height="1" fill="#ffffff"/>
<rect x="452" y="76" width="1" height="1" fill="#ffffff"/>
<rect x="446" y="77" width="1" height="1" fill="#ffffff"/>
<rect x="452" y="77" width="1" height="1" fill="#ffffff"/>
<rect x="446" y="78" width="1" height="1" fill="#ffffff"/>
<rect x="452" y="78" width="1" height="1" fill="#ffffff"/>
<rect x="447" y="79" width="1" height="1" fill="#ffffff"/>
<rect x="451" y="79" width="1" height="1" fill="#ffffff"/>
<rect x="448" y="80" width="1" height="1" fill="#ffffff"/>
<rect x="449" y="80" width="1" height="1" fill="#ffffff"/>
<rect x="450" y="80" width="1" height="1" fill="#ffffff"/>
<rect x="453" y="74" width="8" height="1" fill="#ffffff"/>
<rect x="457" y="74" width="1" height="26" fill="#ffffff"/>
<rect x="457" y="99" width="1" height="1" fill="#ffffff"/>
<rect x="456" y="98" width="3" height="1" fill="#ffffff"/>
<rect x="456" y="97" width="3" height="1" fill="#ffffff"/>
<rect x="455" y="96" width="5" height="1" fill="#ffffff"/>
<rect x="454" y="95" width="6" height="1" fill="#ffffff"/>
<rect x="460" y="73" width="8" height="1" fill="#ffffff"/>
<rect x="464" y="73" width="1" height="26" fill="#ffffff"/>
<rect x="464" y="98" width="1" height="1" fill="#ffffff"/>
<rect x="463" y="97" width="3" height="1" fill="#ffffff"/>
<rect x="463" y="96" width="3" height="1" fill="#ffffff"/>
<rect x="462" y="95" width="5" height="1" fill="#ffffff"/>
<rect x="461" y="94" width="6" height="1" fill="#ffffff"/>
<rect x="467" y="71" width="8" height="1" fill="#ffffff"/>
<rect x="471" y="65" width="1" height="16" fill="#ffffff"/>
<rect x="471" y="68" width="1" height="1" fill="#ffffff"/>
<rect x="469" y="69" width="1" height="1" fill="#ffffff"/>
<rect x="470" y="69" width="1" height="1" fill="#ffffff"/>
<rect x="472" y="69" width="1" height="1" fill="#ffffff"/>
<rect x="473" y="69" width="1" height="1" fill="#ffffff"/>
<rect x="468" y="70" width="1" height="1" fill="#ffffff"/>
<rect x="474" y="70" width="1" height="1" fill="#ffffff"/>
<rect x="468" y="71" width="1" height="1" fill="#ffffff"/>
<rect x="474" y="71" width="1" height="1" fill="#ffffff"/>
<rect x="468" y="72" width="1" height="1" fill="#ffffff"/>
<rect x="474" y="72" width="1" height="1" fill="#ffffff"/>
<rect x="469" y="73" width="1" height="1" fill="#ffffff"/>
<rect x="473" y="73" width="1" height="1" fill="#ffffff"/>
<rect x="470" y="74" width="1" height="1" fill="#ffffff"/>
<rect x="471" y="74" width="1" height="1" fill="#ffffff"/>
<rect x="472" y="74" width="1" height="1" fill="#ffffff"/>
<rect x="474" y="75" width="9" height="1" fill="#ffffff"/>
<rect x="478" y="75" width="1" height="27" fill="#ffffff"/>
<rect x="478" y="101" width="1" height="1" fill="#ffffff"/>
<rect x="477" y="100" width="3" height="1" fill="#ffffff"/>
<rect x="477" y="99" width="3" height="1" fill="#ffffff"/>
<rect x="476" y="98" width="5" height="1" fill="#ffffff"/>
<rect x="475" y="97" width="6" height="1" fill="#ffffff"/>
<rect x="482" y="76" width="8" height="1" fill="#ffffff"/>
<rect x="485" y="76" width="1" height="26" fill="#ffffff"/>
<rect x="485" y="101" width="1" height="1" fill="#ffffff"/>
<rect x="484" y="100" width="3" height="1" fill="#ffffff"/>
<rect x="484" y="99" width="3" height="1" fill="#ffffff"/>
<rect x="483" y="98" width="5" height="1" fill="#ffffff"/>
<rect x="482" y="97" width="6" height="1" fill="#ffffff"/>
<rect x="489" y="75" width="7" height="1" fill="#ffffff"/>
<rect x="492" y="75" width="1" height="26" fill="#ffffff"/>
<rect x="492" y="100" width="1" height="1" fill="#ffffff"/>
<rect x="491" y="99" width="3" height="1" fill="#ffffff"/>
<rect x="491" y="98" width="3" height="1" fill="#ffffff"/>
<rect x="490" y="97" width="5" height="1" fill="#ffffff"/>
<rect x="489" y="96" width="6" height="1" fill="#ffffff"/>
<rect x="495" y="74" width="8" height="1" fill="#ffffff"/>
<rect x="499" y="74" width="1" height="27" fill="#ffffff"/>
<rect x="499" y="100" width="1" height="1" fill="#ffffff"/>
<rect x="498" y="99" width="3" height="1" fill="#ffffff"/>
<rect x="498" y="98" width="3" height="1" fill="#ffffff"/>
<rect x="497" y="97" width="5" height="1" fill="#ffffff"/>
<rect x="496" y="96" width="6" height="1" fill="#ffffff"/>
<rect x="502" y="75" width="8" height="1" fill="#ffffff"/>
<rect x="505" y="75" width="1" height="27" fill="#ffffff"/>
<rect x="505" y="101" width="1" height="1" fill="#ffffff"/>
<rect x="504" y="100" width="3" height="1" fill="#ffffff"/>
<rect x="504" y="99" width="3" height="1" fill="#ffffff"/>
<rect x="503" y="98" width="5" height="1" fill="#ffffff"/>
<rect x="502" y="97" width="6" height="1" fill="#ffffff"/>
<rect x="509" y="75" width="7" height="1" fill="#ffffff"/>
<rect x="512" y="75" width="1" height="27" fill="#ffffff"/>
<rect x="512" y="101" width="1" height="1" fill="#ffffff"/>
<rect x="511" y="100" width="3" height="1" fill="#ffffff"/>
<rect x="511" y="99" width="3" height="1" fill="#ffffff"/>
<rect x="510" y="98" width="5" height="1" fill="#ffffff"/>
<rect x="509" y="97" width="6" height="1" fill="#ffffff"/>
<rect x="515" y="77" width="8" height="1" fill="#ffffff"/>
<rect x="519" y="77" width="1" height="26" fill="#ffffff"/>
<rect x="519" y="102" width="1" height="1" fill="#ffffff"/>
<rect x="518" y="101" width="3" height="1" fill="#ffffff"/>
<rect x="518" y="100" width="3" height="1" fill="#ffffff"/>
<rect x="517" y="99" width="5" height="1" fill="#ffffff"/>
<rect x="516" y="98" width="6" height="1" fill="#ffffff"/>
<rect x="522" y="79" width="7" height="1" fill="#ffffff"/>
<rect x="525" y="79" width="1" height="27" fill="#ffffff"/>
<rect x="525" y="105" width="1" height="1" fill="#ffffff"/>
<rect x="524" y="104" width="3" height="1" fill="#ffffff"/>
<rect x="524" y="103" width="3" height="1" fill="#ffffff"/>
<rect x="523" y="102" width="5" height="1" fill="#ffffff"/>
<rect x="522" y="101" width="6" height="1" fill="#ffffff"/>
<rect x="528" y="89" width="8" height="1" fill="#ffffff"/>
<rect x="532" y="78" width="1" height="46" fill="#ffffff"/>
<rect x="532" y="86" width="1" height="1" fill="#ffffff"/>
<rect x="530" y="87" width="1" height="1" fill="#ffffff"/>
<rect x="531" y="87" width="1" height="1" fill="#ffffff"/>
<rect x="533" y="87" width="1" height="1" fill="#ffffff"/>
<rect x="534" y="87" width="1" height="1" fill="#ffffff"/>
<rect x="529" y="88" width="1" height="1" fill="#ffffff"/>
<rect x="535" y="88" width="1" height="1" fill="#ffffff"/>
<rect x="529" y="89" width="1" height="1" fill="#ffffff"/>
<rect x="535" y="89" width="1" height="1" fill="#ffffff"/>
<rect x="529" y="90" width="1" height="1" fill="#ffffff"/>
<rect x="535" y="90" width="1" height="1" fill="#ffffff"/>
<rect x="530" y="91" width="1" height="1" fill="#ffffff"/>
<rect x="534" y="91" width="1" height="1" fill="#ffffff"/>
<rect x="531" y="92" width="1" height="1" fill="#ffffff"/>
<rect x="532" y="92" width="1" height="1" fill="#ffffff"/>
<rect x="533" y="92" width="1" height="1" fill="#ffffff"/>
<rect x="535" y="80" width="7" height="1" fill="#ffffff"/>
<rect x="538" y="80" width="1" height="26" fill="#ffffff"/>
<rect x="538" y="105" width="1" height="1" fill="#ffffff"/>
<rect x="537" y="104" width="3" height="1" fill="#ffffff"/>
<rect x="537" y="103" width="3" height="1" fill="#ffffff"/>
<rect x="536" y="102" width="5" height="1" fill="#ffffff"/>
<rect x="535" y="101" width="6" height="1" fill="#ffffff"/>
<rect x="541" y="81" width="8" height="1" fill="#ffffff"/>
<rect x="544" y="81" width="1" height="27" fill="#ffffff"/>
<rect x="544" y="107" width="1" height="1" fill="#ffffff"/>
<rect x="543" y="106" width="3" height="1" fill="#ffffff"/>
<rect x="543" y="105" width="3" height="1" fill="#ffffff"/>
<rect x="542" y="104" width="5" height="1" fill="#ffffff"/>
<rect x="541" y="103" width="6" height="1" fill="#ffffff"/>
<rect x="548" y="82" width="7" height="1" fill="#ffffff"/>
<rect x="551" y="82" width="1" height="26" fill="#ffffff"/>
<rect x="551" y="107" width="1" height="1" fill="#ffffff"/>
<rect x="550" y="106" width="3" height="1" fill="#ffffff"/>
<rect x="550" y="105" width="3" height="1" fill="#ffffff"/>
<rect x="549" y="104" width="5" height="1" fill="#ffffff"/>
<rect x="548" y="103" width="6" height="1" fill="#ffffff"/>
<rect x="554" y="83" width="7" height="1" fill="#ffffff"/>
<rect x="557" y="83" width="1" height="27" fill="#ffffff"/>
<rect x="557" y="109" width="1" height="1" fill="#ffffff"/>
<rect x="556" y="108" width="3" height="1" fill="#ffffff"/>
<rect x="556" y="107" width="3" height="1" fill="#ffffff"/>
<rect x="555" y="106" width="5" height="1" fill="#ffffff"/>
<rect x="554" y="105" width="6" height="1" fill="#ffffff"/>
<rect x="560" y="84" width="8" height="1" fill="#ffffff"/>
<rect x="564" y="84" width="1" height="26" fill="#ffffff"/>
<rect x="564" y="109" width="1" height="1" fill="#ffffff"/>
<rect x="563" y="108" width="3" height="1" fill="#ffffff"/>
<rect x="563" y="107" width="3" height="1" fill="#ffffff"/>
<rect x="562" y="106" width="5" height="1" fill="#ffffff"/>
<rect x="561" y="105" width="6" height="1" fill="#ffffff"/>
<rect x="567" y="83" width="7" height="1" fill="#ffffff"/>
<rect x="570" y="83" width="1" height="27" fill="#ffffff"/>
<rect x="570" y="109" width="1" height="1" fill="#ffffff"/>
<rect x="569" y="108" width="3" height="1" fill="#ffffff"/>
<rect x="569" y="107" width="3" height="1" fill="#ffffff"/>
<rect x="568" y="106" width="5" height="1" fill="#ffffff"/>
<rect x="567" y="105" width="6" height="1" fill="#ffffff"/>
<rect x="573" y="86" width="7" height="1" fill="#ffffff"/>
<rect x="576" y="86" width="1" height="26" fill="#ffffff"/>
<rect x="576" y="111" width="1" height="1" fill="#ffffff"/>
<rect x="575" y="110" width="3" height="1" fill="#ffffff"/>
<rect x="575" y="109" width="3" height="1" fill="#ffffff"/>
<rect x="574" y="108" width="5" height="1" fill="#ffffff"/>
<rect x="573" y="107" width="6" height="1" fill="#ffffff"/>
<rect x="84" y="87" width="22" height="1" fill="#ff0000"/>
<rect x="105" y="77" width="1" height="11" fill="#ff0000"/>
<rect x="105" y="77" width="21" height="1" fill="#ff0000"/>
<rect x="125" y="68" width="1" height="10" fill="#ff0000"/>
<rect x="125" y="68" width="18" height="1" fill="#ff0000"/>
<rect x="142" y="61" width="1" height="8" fill="#ff0000"/>
<rect x="142" y="61" width="17" height="1" fill="#ff0000"/>
<rect x="158" y="56" width="1" height="6" fill="#ff0000"/>
<rect x="158" y="56" width="17" height="1" fill="#ff0000"/>
<rect x="174" y="52" width="1" height="5" fill="#ff0000"/>
<rect x="174" y="52" width="17" height="1" fill="#ff0000"/>
<rect x="190" y="49" width="1" height="4" fill="#ff0000"/>
<rect x="190" y="49" width="17" height="1" fill="#ff0000"/>
<rect x="206" y="47" width="1" height="3" fill="#ff0000"/>
<rect x="206" y="47" width="15" height="1" fill="#ff0000"/>
<rect x="220" y="47" width="1" height="1" fill="#ff0000"/>
<rect x="220" y="47" width="15" height="1" fill="#ff0000"/>
<rect x="234" y="47" width="1" height="2" fill="#ff0000"/>
<rect x="234" y="48" width="14" height="1" fill="#ff0000"/>
<rect x="247" y="48" width="1" height="2" fill="#ff0000"/>
<rect x="247" y="49" width="13" height="1" fill="#ff0000"/>
<rect x="259" y="49" width="1" height="2" fill="#ff0000"/>
<rect x="259" y="50" width="12" height="1" fill="#ff0000"/>
<rect x="270" y="50" width="1" height="4" fill="#ff0000"/>
<rect x="270" y="53" width="14" height="1" fill="#ff0000"/>
<rect x="283" y="53" width="1" height="4" fill="#ff0000"/>
<rect x="283" y="56" width="13" height="1" fill="#ff0000"/>
<rect x="295" y="56" width="1" height="4" fill="#ff0000"/>
<rect x="295" y="59" width="13" height="1" fill="#ff0000"/>
<rect x="307" y="59" width="1" height="5" fill="#ff0000"/>
<rect x="307" y="63" width="12" height="1" fill="#ff0000"/>
<rect x="318" y="63" width="1" height="5" fill="#ff0000"/>
<rect x="318" y="67" width="11" height="1" fill="#ff0000"/>
<rect x="328" y="67" width="1" height="6" fill="#ff0000"/>
<rect x="328" y="72" width="12" height="1" fill="#ff0000"/>
<rect x="339" y="72" width="1" height="6" fill="#ff0000"/>
<rect x="339" y="77" width="12" height="1" fill="#ff0000"/>
<rect x="350" y="77" width="1" height="7" fill="#ff0000"/>
<rect x="350" y="83" width="12" height="1" fill="#ff0000"/>
<rect x="361" y="83" width="1" height="7" fill="#ff0000"/>
<rect x="361" y="89" width="11" height="1" fill="#ff0000"/>
<rect x="371" y="89" width="1" height="8" fill="#ff0000"/>
<rect x="371" y="96" width="10" height="1" fill="#ff0000"/>
<rect x="380" y="96" width="1" height="8" fill="#ff0000"/>
<rect x="380" y="103" width="12" height="1" fill="#ff0000"/>
<rect x="391" y="103" width="1" height="9" fill="#ff0000"/>
<rect x="391" y="111" width="10" height="1" fill="#ff0000"/>
<rect x="400" y="111" width="1" height="8" fill="#ff0000"/>
<rect x="400" y="118" width="9" height="1" fill="#ff0000"/>
<rect x="408" y="118" width="1" height="7" fill="#ff0000"/>
<rect x="408" y="124" width="9" height="1" fill="#ff0000"/>
<rect x="416" y="124" width="1" height="8" fill="#ff0000"/>
<rect x="416" y="131" width="8" height="1" fill="#ff0000"/>
<rect x="423" y="131" width="1" height="8" fill="#ff0000"/>
<rect x="423" y="138" width="9" height="1" fill="#ff0000"/>
<rect x="431" y="138" width="1" height="8" fill="#ff0000"/>
<rect x="431" y="145" width="8" height="1" fill="#ff0000"/>
<rect x="438" y="145" width="1" height="8" fill="#ff0000"/>
<rect x="438" y="152" width="9" height="1" fill="#ff0000"/>
<rect x="446" y="152" width="1" height="8" fill="#ff0000"/>
<rect x="446" y="159" width="8" height="1" fill="#ff0000"/>
<rect x="453" y="159" width="1" height="9" fill="#ff0000"/>
<rect x="453" y="167" width="8" height="1" fill="#ff0000"/>
<rect x="460" y="167" width="1" height="10" fill="#ff0000"/>
<rect x="460" y="176" width="8" height="1" fill="#ff0000"/>
<rect x="467" y="176" width="1" height="9" fill="#ff0000"/>
<rect x="467" y="184" width="8" height="1" fill="#ff0000"/>
<rect x="474" y="184" width="1" height="10" fill="#ff0000"/>
<rect x="474" y="193" width="9" height="1" fill="#ff0000"/>
<rect x="482" y="193" width="1" height="10" fill="#ff0000"/>
<rect x="482" y="202" width="8" height="1" fill="#ff0000"/>
<rect x="489" y="202" width="1" height="10" fill="#ff0000"/>
<rect x="489" y="211" width="7" height="1" fill="#ff0000"/>
<rect x="495" y="211" width="1" height="11" fill="#ff0000"/>
<rect x="495" y="221" width="8" height="1" fill="#ff0000"/>
<rect x="502" y="221" width="1" height="11" fill="#ff0000"/>
<rect x="502" y="231" width="8" height="1" fill="#ff0000"/>
<rect x="509" y="231" width="1" height="11" fill="#ff0000"/>
<rect x="509" y="241" width="7" height="1" fill="#ff0000"/>
<rect x="515" y="241" width="1" height="12" fill="#ff0000"/>
<rect x="515" y="252" width="8" height="1" fill="#ff0000"/>
<rect x="522" y="252" width="1" height="12" fill="#ff0000"/>
<rect x="522" y="263" width="7" height="1" fill="#ff0000"/>
<rect x="528" y="263" width="1" height="12" fill="#ff0000"/>
<rect x="528" y="274" width="8" height="1" fill="#ff0000"/>
<rect x="535" y="274" width="1" height="13" fill="#ff0000"/>
<rect x="535" y="286" width="7" height="1" fill="#ff0000"/>
<rect x="541" y="286" width="1" height="13" fill="#ff0000"/>
<rect x="541" y="298" width="8" height="1" fill="#ff0000"/>
<rect x="548" y="298" width="1" height="13" fill="#ff0000"/>
<rect x="548" y="310" width="7" height="1" fill="#ff0000"/>
<rect x="554" y="310" width="1" height="15" fill="#ff0000"/>
<rect x="554" y="324" width="7" height="1" fill="#ff0000"/>
<rect x="560" y="324" width="1" height="14" fill="#ff0000"/>
<rect x="560" y="337" width="8" height="1" fill="#ff0000"/>
<rect x="567" y="337" width="1" height="15" fill="#ff0000"/>
<rect x="567" y="351" width="7" height="1" fill="#ff0000"/>
<rect x="573" y="351" width="1" height="15" fill="#ff0000"/>
<rect x="573" y="365" width="7" height="1" fill="#ff0000"/>
<rect x="72" y="367" width="511" height="1" fill="#ffffff"/>
<rect x="72" y="472" width="511" height="1" fill="#ffffff"/>
<rect x="72" y="367" width="1" height="106" fill="#ffffff"/>
<rect x="582" y="367" width="1" height="106" fill="#ffffff"/>
<rect x="78" y="367" width="1" height="5" fill="#ffffff"/>
<rect x="78" y="468" width="1" height="5" fill="#ffffff"/>
<rect x="105" y="367" width="1" height="5" fill="#ffffff"/>
<rect x="105" y="468" width="1" height="5" fill="#ffffff"/>
<rect x="128" y="367" width="1" height="5" fill="#ffffff"/>
<rect x="128" y="468" width="1" height="5" fill="#ffffff"/>
<rect x="149" y="367" width="1" height="5" fill="#ffffff"/>
<rect x="149" y="468" width="1" height="5" fill="#ffffff"/>
<rect x="168" y="367" width="1" height="10" fill="#ffffff"/>
<rect x="168" y="464" width="1" height="9" fill="#ffffff"/>
<rect x="290" y="367" width="1" height="5" fill="#ffffff"/>
<rect x="290" y="468" width="1" height="5" fill="#ffffff"/>
<rect x="362" y="367" width="1" height="5" fill="#ffffff"/>
<rect x="362" y="468" width="1" height="5" fill="#ffffff"/>
<rect x="413" y="367" width="1" height="5" fill="#ffffff"/>
<rect x="413" y="468" width="1" height="5" fill="#ffffff"/>
<rect x="452" y="367" width="1" height="5" fill="#ffffff"/>
<rect x="452" y="468" width="1" height="5" fill="#ffffff"/>
<rect x="484" y="367" width="1" height="5" fill="#ffffff"/>
<rect x="484" y="468" width="1" height="5" fill="#ffffff"/>
<rect x="511" y="367" width="1" height="5" fill="#ffffff"/>
<rect x="511" y="468" width="1" height="5" fill="#ffffff"/>
<rect x="535" y="367" width="1" height="5" fill="#ffffff"/>
<rect x="535" y="468" width="1" height="5" fill="#ffffff"/>
<rect x="556" y="367" width="1" height="5" fill="#ffffff"/>
<rect x="556" y="468" width="1" height="5" fill="#ffffff"/>
<rect x="574" y="367" width="1" height="10" fill="#ffffff"/>
<rect x="574" y="464" width="1" height="9" fill="#ffffff"/>
<rect x="72" y="459" width="6" height="1" fill="#ffffff"/>
<rect x="577" y="459" width="6" height="1" fill="#ffffff"/>
<rect x="72" y="446" width="11" height="1" fill="#ffffff"/>
<rect x="572" y="446" width="11" height="1" fill="#ffffff"/>
<rect x="72" y="433" width="6" height="1" fill="#ffffff"/>
<rect x="577" y="433" width="6" height="1" fill="#ffffff"/>
<rect x="72" y="420" width="11" height="1" fill="#ffffff"/>
<rect x="572" y="420" width="11" height="1" fill="#ffffff"/>
<rect x="72" y="407" width="6" height="1" fill="#ffffff"/>
<rect x="577" y="407" width="6" height="1" fill="#ffffff"/>
<rect x="72" y="393" width="11" height="1" fill="#ffffff"/>
<rect x="572" y="393" width="11" height="1" fill="#ffffff"/>
<rect x="72" y="380" width="6" height="1" fill="#ffffff"/>
<rect x="577" y="380" width="6" height="1" fill="#ffffff"/>
<rect x="84" y="399" width="22" height="1" fill="#228b22"/>
<rect x="95" y="386" width="1" height="27" fill="#228b22"/>
<rect x="105" y="409" width="21" height="1" fill="#228b22"/>
<rect x="115" y="396" width="1" height="27" fill="#228b22"/>
<rect x="125" y="424" width="18" height="1" fill="#228b22"/>
<rect x="134" y="411" width="1" height="28" fill="#228b22"/>
<rect x="142" y="439" width="17" height="1" fill="#228b22"/>
<rect x="151" y="426" width="1" height="27" fill="#228b22"/>
<rect x="158" y="413" width="17" height="1" fill="#228b22"/>
<rect x="166" y="400" width="1" height="27" fill="#228b22"/>
<rect x="174" y="411" width="17" height="1" fill="#228b22"/>
<rect x="182" y="398" width="1" height="27" fill="#228b22"/>
<rect x="190" y="408" width="17" height="1" fill="#228b22"/>
<rect x="198" y="395" width="1" height="27" fill="#228b22"/>
<rect x="206" y="402" width="15" height="1" fill="#228b22"/>
<rect x="213" y="389" width="1" height="27" fill="#228b22"/>
<rect x="220" y="417" width="15" height="1" fill="#228b22"/>
<rect x="227" y="404" width="1" height="27" fill="#228b22"/>
<rect x="234" y="411" width="14" height="1" fill="#228b22"/>
<rect x="241" y="398" width="1" height="27" fill="#228b22"/>
<rect x="247" y="429" width="13" height="1" fill="#228b22"/>
<rect x="253" y="416" width="1" height="27" fill="#228b22"/>
<rect x="259" y="416" width="12" height="1" fill="#228b22"/>
<rect x="265" y="403" width="1" height="27" fill="#228b22"/>
<rect x="270" y="410" width="14" height="1" fill="#228b22"/>
<rect x="277" y="397" width="1" height="27" fill="#228b22"/>
<rect x="283" y="414" width="13" height="1" fill="#228b22"/>
<rect x="289" y="401" width="1" height="27" fill="#228b22"/>
<rect x="295" y="409" width="13" height="1" fill="#228b22"/>
<rect x="301" y="396" width="1" height="27" fill="#228b22"/>
<rect x="307" y="418" width="12" height="1" fill="#228b22"/>
<rect x="312" y="405" width="1" height="27" fill="#228b22"/>
<rect x="318" y="429" width="11" height="1" fill="#228b22"/>
<rect x="323" y="416" width="1" height="27" fill="#228b22"/>
<rect x="328" y="416" width="12" height="1" fill="#228b22"/>
<rect x="334" y="403" width="1" height="27" fill="#228b22"/>
<rect x="339" y="413" width="12" height="1" fill="#228b22"/>
<rect x="345" y="400" width="1" height="27" fill="#228b22"/>
<rect x="350" y="431" width="12" height="1" fill="#228b22"/>
<rect x="356" y="418" width="1" height="27" fill="#228b22"/>
<rect x="361" y="405" width="11" height="1" fill="#228b22"/>
<rect x="366" y="392" width="1" height="27" fill="#228b22"/>
<rect x="371" y="418" width="10" height="1" fill="#228b22"/>
<rect x="376" y="405" width="1" height="27" fill="#228b22"/>
<rect x="380" y="398" width="12" height="1" fill="#228b22"/>
<rect x="386" y="385" width="1" height="27" fill="#228b22"/>
<rect x="391" y="431" width="10" height="1" fill="#228b22"/>
<rect x="396" y="418" width="1" height="27" fill="#228b22"/>
<rect x="400" y="417" width="9" height="1" fill="#228b22"/>
<rect x="404" y="404" width="1" height="27" fill="#228b22"/>
<rect x="408" y="438" width="9" height="1" fill="#228b22"/>
<rect x="412" y="425" width="1" height="27" fill="#228b22"/>
<rect x="416" y="429" width="8" height="1" fill="#228b22"/>
<rect x="419" y="416" width="1" height="27" fill="#228b22"/>
<rect x="423" y="403" width="9" height="1" fill="#228b22"/>
<rect x="427" y="390" width="1" height="27" fill="#228b22"/>
<rect x="431" y="448" width="8" height="1" fill="#228b22"/>
<rect x="435" y="435" width="1" height="27" fill="#228b22"/>
<rect x="438" y="413" width="9" height="1" fill="#228b22"/>
<rect x="442" y="400" width="1" height="27" fill="#228b22"/>
<rect x="446" y="424" width="8" height="1" fill="#228b22"/>
<rect x="449" y="411" width="1" height="27" fill="#228b22"/>
<rect x="453" y="414" width="8" height="1" fill="#228b22"/>
<rect x="457" y="401" width="1" height="27" fill="#228b22"/>
<rect x="460" y="426" width="8" height="1" fill="#228b22"/>
<rect x="464" y="413" width="1" height="27" fill="#228b22"/>
<rect x="467" y="442" width="8" height="1" fill="#228b22"/>
<rect x="471" y="429" width="1" height="27" fill="#228b22"/>
<rect x="474" y="408" width="9" height="1" fill="#228b22"/>
<rect x="478" y="395" width="1" height="27" fill="#228b22"/>
<rect x="482" y="440" width="8" height="1" fill="#228b22"/>
<rect x="485" y="427" width="1" height="27" fill="#228b22"/>
<rect x="489" y="428" width="7" height="1" fill="#228b22"/>
<rect x="492" y="415" width="1" height="27" fill="#228b22"/>
<rect x="495" y="403" width="8" height="1" fill="#228b22"/>
<rect x="499" y="390" width="1" height="27" fill="#228b22"/>
<rect x="502" y="399" width="8" height="1" fill="#228b22"/>
<rect x="505" y="386" width="1" height="27" fill="#228b22"/>
<rect x="509" y="428" width="7" height="1" fill="#228b22"/>
<rect x="512" y="415" width="1" height="27" fill="#228b22"/>
<rect x="515" y="422" width="8" height="1" fill="#228b22"/>
<rect x="519" y="409" width="1" height="27" fill="#228b22"/>
<rect x="522" y="417" width="7" height="1" fill="#228b22"/>
<rect x="525" y="404" width="1" height="27" fill="#228b22"/>
<rect x="528" y="427" width="8" height="1" fill="#228b22"/>
<rect x="532" y="414" width="1" height="27" fill="#228b22"/>
<rect x="535" y="399" width="7" height="1" fill="#228b22"/>
<rect x="538" y="386" width="1" height="27" fill="#228b22"/>
<rect x="541" y="437" width="8" height="1" fill="#228b22"/>
<rect x="544" y="424" width="1" height="27" fill="#228b22"/>
<rect x="548" y="413" width="7" height="1" fill="#228b22"/>
<rect x="551" y="400" width="1" height="27" fill="#228b22"/>
<rect x="554" y="440" width="7" height="1" fill="#228b22"/>
<rect x="557" y="427" width="1" height="27" fill="#228b22"/>
<rect x="560" y="409" width="8" height="1" fill="#228b22"/>
<rect x="564" y="396" width="1" height="27" fill="#228b22"/>
<rect x="567" y="437" width="7" height="1" fill="#228b22"/>
<rect x="570" y="424" width="1" height="27" fill="#228b22"/>
<rect x="573" y="414" width="7" height="1" fill="#228b22"/>
<rect x="576" y="401" width="1" height="27" fill="#228b22"/>
<rect x="84" y="402" width="22" height="1" fill="#ffffff"/>
<rect x="95" y="389" width="1" height="27" fill="#ffffff"/>
<rect x="105" y="418" width="21" height="1" fill="#ffffff"/>
<rect x="115" y="405" width="1" height="27" fill="#ffffff"/>
<rect x="125" y="424" width="18" height="1" fill="#ffffff"/>
<rect x="134" y="411" width="1" height="27" fill="#ffffff"/>
<rect x="142" y="423" width="17" height="1" fill="#ffffff"/>
<rect x="151" y="410" width="1" height="27" fill="#ffffff"/>
<rect x="158" y="417" width="17" height="1" fill="#ffffff"/>
<rect x="166" y="404" width="1" height="27" fill="#ffffff"/>
<rect x="174" y="432" width="17" height="1" fill="#ffffff"/>
<rect x="182" y="419" width="1" height="27" fill="#ffffff"/>
<rect x="190" y="429" width="17" height="1" fill="#ffffff"/>
<rect x="198" y="416" width="1" height="27" fill="#ffffff"/>
<rect x="206" y="426" width="15" height="1" fill="#ffffff"/>
<rect x="213" y="413" width="1" height="27" fill="#ffffff"/>
<rect x="220" y="414" width="15" height="1" fill="#ffffff"/>
<rect x="227" y="401" width="1" height="27" fill="#ffffff"/>
<rect x="234" y="410" width="14" height="1" fill="#ffffff"/>
<rect x="241" y="397" width="1" height="27" fill="#ffffff"/>
<rect x="247" y="444" width="13" height="1" fill="#ffffff"/>
<rect x="253" y="431" width="1" height="27" fill="#ffffff"/>
<rect x="259" y="426" width="12" height="1" fill="#ffffff"/>
<rect x="265" y="413" width="1" height="27" fill="#ffffff"/>
<rect x="270" y="425" width="14" height="1" fill="#ffffff"/>
<rect x="277" y="412" width="1" height="27" fill="#ffffff"/>
<rect x="283" y="421" width="13" height="1" fill="#ffffff"/>
<rect x="289" y="408" width="1" height="27" fill="#ffffff"/>
<rect x="295" y="424" width="13" height="1" fill="#ffffff"/>
<rect x="301" y="411" width="1" height="27" fill="#ffffff"/>
<rect x="307" y="425" width="12" height="1" fill="#ffffff"/>
<rect x="312" y="412" width="1" height="27" fill="#ffffff"/>
<rect x="318" y="452" width="11" height="1" fill="#ffffff"/>
<rect x="323" y="439" width="1" height="27" fill="#ffffff"/>
<rect x="328" y="414" width="12" height="1" fill="#ffffff"/>
<rect x="334" y="401" width="1" height="27" fill="#ffffff"/>
<rect x="339" y="417" width="12" height="1" fill="#ffffff"/>
<rect x="345" y="404" width="1" height="27" fill="#ffffff"/>
<rect x="350" y="426" width="12" height="1" fill="#ffffff"/>
<rect x="356" y="413" width="1" height="27" fill="#ffffff"/>
<rect x="361" y="415" width="11" height="1" fill="#ffffff"/>
<rect x="366" y="402" width="1" height="27" fill="#ffffff"/>
<rect x="371" y="381" width="10" height="1" fill="#ffffff"/>
<rect x="376" y="368" width="1" height="27" fill="#ffffff"/>
<rect x="380" y="428" width="12" height="1" fill="#ffffff"/>
<rect x="386" y="415" width="1" height="27" fill="#ffffff"/>
<rect x="391" y="426" width="10" height="1" fill="#ffffff"/>
<rect x="396" y="413" width="1" height="27" fill="#ffffff"/>
<rect x="400" y="381" width="9" height="1" fill="#ffffff"/>
<rect x="404" y="368" width="1" height="27" fill="#ffffff"/>
<rect x="408" y="432" width="9" height="1" fill="#ffffff"/>
<rect x="412" y="419" width="1" height="27" fill="#ffffff"/>
<rect x="416" y="427" width="8" height="1" fill="#ffffff"/>
<rect x="419" y="414" width="1" height="27" fill="#ffffff"/>
<rect x="423" y="424" width="9" height="1" fill="#ffffff"/>
<rect x="427" y="411" width="1" height="27" fill="#ffffff"/>
<rect x="431" y="428" width="8" height="1" fill="#ffffff"/>
<rect x="435" y="415" width="1" height="27" fill="#ffffff"/>
<rect x="438" y="424" width="9" height="1" fill="#ffffff"/>
<rect x="442" y="411" width="1" height="27" fill="#ffffff"/>
<rect x="446" y="400" width="8" height="1" fill="#ffffff"/>
<rect x="449" y="387" width="1" height="27" fill="#ffffff"/>
<rect x="453" y="434" width="8" height="1" fill="#ffffff"/>
<rect x="457" y="421" width="1" height="27" fill="#ffffff"/>
<rect x="460" y="415" width="8" height="1" fill="#ffffff"/>
<rect x="464" y="402" width="1" height="27" fill="#ffffff"/>
<rect x="467" y="389" width="8" height="1" fill="#ffffff"/>
<rect x="471" y="376" width="1" height="27" fill="#ffffff"/>
<rect x="474" y="429" width="9" height="1" fill="#ffffff"/>
<rect x="478" y="416" width="1" height="27" fill="#ffffff"/>
<rect x="482" y="411" width="8" height="1" fill="#ffffff"/>
<rect x="485" y="398" width="1" height="27" fill="#ffffff"/>
<rect x="489" y="436" width="7" height="1" fill="#ffffff"/>
<rect x="492" y="423" width="1" height="27" fill="#ffffff"/>
<rect x="495" y="407" width="8" height="1" fill="#ffffff"/>
<rect x="499" y="394" width="1" height="27" fill="#ffffff"/>
<rect x="502" y="409" width="8" height="1" fill="#ffffff"/>
<rect x="505" y="396" width="1" height="27" fill="#ffffff"/>
<rect x="509" y="426" width="7" height="1" fill="#ffffff"/>
<rect x="512" y="413" width="1" height="27" fill="#ffffff"/>
<rect x="515" y="407" width="8" height="1" fill="#ffffff"/>
<rect x="519" y="394" width="1" height="27" fill="#ffffff"/>
<rect x="522" y="409" width="7" height="1" fill="#ffffff"/>
<rect x="525" y="396" width="1" height="27" fill="#ffffff"/>
<rect x="528" y="405" width="8" height="1" fill="#ffffff"/>
<rect x="532" y="392" width="1" height="27" fill="#ffffff"/>
<rect x="535" y="417" width="7" height="1" fill="#ffffff"/>
<rect x="538" y="404" width="1" height="27" fill="#ffffff"/>
<rect x="541" y="431" width="8" height="1" fill="#ffffff"/>
<rect x="544" y="418" width="1" height="27" fill="#ffffff"/>
<rect x="548" y="434" width="7" height="1" fill="#ffffff"/>
<rect x="551" y="421" width="1" height="27" fill="#ffffff"/>
<rect x="554" y="410" width="7" height="1" fill="#ffffff"/>
<rect x="557" y="397" width="1" height="27" fill="#ffffff"/>
<rect x="560" y="423" width="8" height="1" fill="#ffffff"/>
<rect x="564" y="410" width="1" height="27" fill="#ffffff"/>
<rect x="567" y="444" width="7" height="1" fill="#ffffff"/>
<rect x="570" y="431" width="1" height="27" fill="#ffffff"/>
<rect x="573" y="437" width="7" height="1" fill="#ffffff"/>
<rect x="576" y="424" width="1" height="27" fill="#ffffff"/>
<rect x="72" y="420" width="1" height="1" fill="#ff0000"/>
<rect x="78" y="420" width="1" height="1" fill="#ff0000"/>
<rect x="84" y="420" width="1" height="1" fill="#ff0000"/>
<rect x="90" y="420" width="1" height="1" fill="#ff0000"/>
<rect x="96" y="420" width="1" height="1" fill="#ff0000"/>
<rect x="102" y="420" width="1" height="1" fill="#ff0000"/>
<rect x="108" y="420" width="1" height="1" fill="#ff0000"/>
<rect x="114" y="420" width="1" height="1" fill="#ff0000"/>
<rect x="120" y="420" width="1" height="1" fill="#ff0000"/>
<rect x="126" y="420" width="1" height="1" fill="#ff0000"/>
<rect x="132" y="420" width="1" height="1" fill="#ff0000"/>
<rect x="138" y="420" width="1" height="1" fill="#ff0000"/>
<rect x="144" y="420" width="1" height="1" fill="#ff0000"/>
<rect x="150" y="420" width="1" height="1" fill="#ff0000"/>
<rect x="156" y="420" width="1" height="1" fill="#ff0000"/>
<rect x="162" y="420" width="1" height="1" fill="#ff0000"/>
<rect x="168" y="420" width="1" height="1" fill="#ff0000"/>
<rect x="174" y="420" width="1" height="1" fill="#ff0000"/>
<rect x="180" y="420" width="1" height="1" fill="#ff0000"/>
<rect x="186" y="420" width="1" height="1" fill="#ff0000"/>
<rect x="192" y="420" width="1" height="1" fill="#ff0000"/>
<rect x="198" y="420" width="1" height="1" fill="#ff0000"/>
<rect x="204" y="420" width="1" height="1" fill="#ff0000"/>
<rect x="210" y="420" width="1" height="1" fill="#ff0000"/>
<rect x="216" y="420" width="1" height="1" fill="#ff0000"/>
<rect x="222" y="420" width="1" height="1" fill="#ff0000"/>
<rect x="228" y="420" width="1" height="1" fill="#ff0000"/>
<rect x="234" y="420" width="1" height="1" fill="#ff0000"/>
<rect x="240" y="420" width="1" height="1" fill="#ff0000"/>
<rect x="246" y="420" width="1" height="1" fill="#ff0000"/>
<rect x="252" y="420" width="1" height="1" fill="#ff0000"/>
<rect x="258" y="420" width="1" height="1" fill="#ff0000"/>
<rect x="264" y="420" width="1" height="1" fill="#ff0000"/>
<rect x="270" y="420" width="1" height="1" fill="#ff0000"/>
<rect x="276" y="420" width="1" height="1" fill="#ff0000"/>
<rect x="282" y="420" width="1" height="1" fill="#ff0000"/>
<rect x="288" y="420" width="1" height="1" fill="#ff0000"/>
<rect x="294" y="420" width="1" height="1" fill="#ff0000"/>
<rect x="300" y="420" width="1" height="1" fill="#ff0000"/>
<rect x="306" y="420" width="1" height="1" fill="#ff0000"/>
<rect x="312" y="420" width="1" height="1" fill="#ff0000"/>
<rect x="318" y="420" width="1" height="1" fill="#ff0000"/>
<rect x="324" y="420" width="1" height="1" fill="#ff0000"/>
<rect x="330" y="420" width="1" height="1" fill="#ff0000"/>
<rect x="336" y="420" width="1" height="1" fill="#ff0000"/>
<rect x="342" y="420" width="1" height="1" fill="#ff0000"/>
<rect x="348" y="420" width="1" height="1" fill="#ff0000"/>
<rect x="354" y="420" width="1" height="1" fill="#ff0000"/>
<rect x="360" y="420" width="1" height="1" fill="#ff0000"/>
<rect x="366" y="420" width="1" height="1" fill="#ff0000"/>
<rect x="372" y="420" width="1" height="1" fill="#ff0000"/>
<rect x="378" y="420" width="1" height="1" fill="#ff0000"/>
<rect x="384" y="420" width="1" height="1" fill="#ff0000"/>
<rect x="390" y="420" width="1" height="1" fill="#ff0000"/>
<rect x="396" y="420" width="1" height="1" fill="#ff0000"/>
<rect x="402" y="420" width="1" height="1" fill="#ff0000"/>
<rect x="408" y="420" width="1" height="1" fill="#ff0000"/>
<rect x="414" y="420" width="1" height="1" fill="#ff0000"/>
<rect x="420" y="420" width="1" height="1" fill="#ff0000"/>
<rect x="426" y="420" width="1" height="1" fill="#ff0000"/>
<rect x="432" y="420" width="1" height="1" fill="#ff0000"/>
<rect x="438" y="420" width="1" height="1" fill="#ff0000"/>
<rect x="444" y="420" width="1" height="1" fill="#ff0000"/>
<rect x="450" y="420" width="1" height="1" fill="#ff0000"/>
<rect x="456" y="420" width="1" height="1" fill="#ff0000"/>
<rect x="462" y="420" width="1" height="1" fill="#ff0000"/>
<rect x="468" y="420" width="1" height="1" fill="#ff0000"/>
<rect x="474" y="420" width="1" height="1" fill="#ff0000"/>
<rect x="480" y="420" width="1" height="1" fill="#ff0000"/>
<rect x="486" y="420" width="1" height="1" fill="#ff0000"/>
<rect x="492" y="420" width="1" height="1" fill="#ff0000"/>
<rect x="498" y="420" width="1" height="1" fill="#ff0000"/>
<rect x="504" y="420" width="1" height="1" fill="#ff0000"/>
<rect x="510" y="420" width="1" height="1" fill="#ff0000"/>
<rect x="516" y="420" width="1" height="1" fill="#ff0000"/>
<rect x="522" y="420" width="1" height="1" fill="#ff0000"/>
<rect x="528" y="420" width="1" height="1" fill="#ff0000"/>
<rect x="534" y="420" width="1" height="1" fill="#ff0000"/>
<rect x="540" y="420" width="1" height="1" fill="#ff0000"/>
<rect x="546" y="420" width="1" height="1" fill="#ff0000"/>
<rect x="552" y="420" width="1" height="1" fill="#ff0000"/>
<rect x="558" y="420" width="1" height="1" fill="#ff0000"/>
<rect x="564" y="420" width="1" height="1" fill="#ff0000"/>
<rect x="570" y="420" width="1" height="1" fill="#ff0000"/>
<rect x="576" y="420" width="1" height="1" fill="#ff0000"/>
<path d="M483.5,15.5 L483.5,20.5 M481.5,15.5 L485.5,15.5 M486.5,15.5 L486.51,15.5 M486.5,17.5 L486.5,20.5 M488.5,17.5 L488.5,20.5 M488.5,18.5 L488.5,17.5 L489.5,17.5 L490.5,17.5 L490.5,18.5 L490.5,20.5 M490.5,18.5 L491.5,17.5 L492.5,17.5 L493.5,17.5 L493.5,18.5 L493.5,20.5 M495.5,18.5 L497.5,18.5 L497.5,17.5 L496.5,17.5 L495.5,17.5 L495.5,18.5 L495.5,19.5 L495.5,20.5 L496.5,20.5 L497.5,20.5 L497.5,19.5 M501.5,17.5 L500.5,17.5 L499.5,17.5 L499.5,18.5 L501.5,18.5 L501.5,19.5 L501.5,20.5 L500.5,20.5 L499.5,20.5 L499.5,19.5 M503.5,17.5 L504.5,17.5 L503.5,17.5 M503.5,20.5 L504.5,20.5 L503.5,20.5 M509.5,16.5 L509.5,15.5 L510.5,15.5 L511.5,15.5 L512.5,15.5 L512.5,16.5 L512.5,17.5 L511.5,18.5 L509.5,20.5 L512.5,20.5 M514.5,20.5 L514.51,20.5 M519.5,15.5 L517.5,20.5 M516.5,15.5 L519.5,15.5 M521.5,15.5 L524.5,15.5 L522.5,17.5 L523.5,17.5 L524.5,17.5 L524.5,18.5 L524.5,19.5 L523.5,20.5 L522.5,20.5 L521.5,20.5 L521.5,19.5 M526.5,16.5 L527.5,16.5 L527.5,15.5 L527.5,20.5 M531.5,17.5 L531.51,17.5 M531.5,20.5 L531.51,20.5 M537.5,16.5 L538.5,16.5 L538.5,15.5 L538.5,20.5 M543.5,15.5 L542.5,15.5 L541.5,16.5 L541.5,17.5 L541.5,18.5 L541.5,19.5 L542.5,20.5 L543.5,20.5 L544.5,20.5 L544.5,19.5 L545.5,18.5 L545.5,17.5 L544.5,16.5 L544.5,15.5 L543.5,15.5 M546.5,20.5 L547.5,20.5 L546.5,20.5 M551.5,17.5 L551.5,18.5 L550.5,18.5 L549.5,18.5 L549.5,17.5 L548.5,17.5 L548.5,16.5 L549.5,16.5 L549.5,15.5 L550.5,15.5 L551.5,15.5 L551.5,16.5 L551.5,17.5 L551.5,18.5 L551.5,19.5 L551.5,20.5 L550.5,20.5 L549.5,20.5 L549.5,19.5 M553.5,16.5 L554.5,15.5 L555.5,15.5 L556.5,15.5 L556.5,16.5 L556.5,17.5 L555.5,18.5 L553.5,20.5 L556.5,20.5 M560.5,15.5 L558.5,18.5 L561.5,18.5 M560.5,15.5 L560.5,20.5 M569.5,17.5 L568.5,17.5 L567.5,17.5 L566.5,17.5 L567.5,18.5 L568.5,18.5 L569.5,19.5 L569.5,20.5 L568.5,20.5 L567.5,20.5 L566.5,19.5" stroke="#ffffff" fill="none" stroke-width="1" stroke-linecap="square"/>
<path d="M524.5,43.5 L524.5,49.5 M524.5,43.5 L529.5,49.5 M529.5,43.5 L529.5,49.5 M533.5,43.5 L531.5,49.5 M533.5,43.5 L536.5,49.5 M532.5,47.5 L535.5,47.5 M538.5,43.5 L538.5,49.5 M539.5,49.5 L544.5,49.5 M547.5,43.5 L546.5,43.5 L545.5,44.5 L545.5,46.5 L545.5,48.5 L546.5,49.5 L547.5,49.5 L548.5,49.5 L549.5,49.5 L549.5,48.5 L550.5,46.5 L549.5,44.5 L549.5,43.5 L548.5,43.5 L547.5,43.5 M554.5,43.5 L553.5,43.5 L552.5,44.5 L552.5,46.5 L552.5,48.5 L553.5,49.5 L554.5,49.5 L555.5,49.5 L556.5,48.5 L556.5,46.5 L556.5,44.5 L555.5,43.5 L554.5,43.5" stroke="#ffffff" fill="none" stroke-width="1" stroke-linecap="square"/>
<path d="M524.5,55.5 L524.5,61.5 M524.5,55.5 L529.5,61.5 M529.5,55.5 L529.5,61.5 M533.5,55.5 L531.5,61.5 M533.5,55.5 L536.5,61.5 M532.5,59.5 L535.5,59.5 M538.5,55.5 L538.5,61.5 M539.5,61.5 L544.5,61.5 M547.5,55.5 L546.5,55.5 L545.5,56.5 L545.5,58.5 L545.5,60.5 L546.5,61.5 L547.5,61.5 L548.5,61.5 L549.5,61.5 L549.5,60.5 L550.5,58.5 L549.5,56.5 L549.5,55.5 L548.5,55.5 L547.5,55.5 M552.5,55.5 L556.5,55.5 L554.5,57.5 L555.5,57.5 L556.5,58.5 L556.5,59.5 L556.5,60.5 L555.5,61.5 L554.5,61.5 L553.5,61.5 L552.5,61.5 L552.5,60.5" stroke="#ffffff" fill="none" stroke-width="1" stroke-linecap="square"/>
<rect x="561" y="46" width="7" height="1" fill="#228b22"/>
<rect x="564" y="43" width="1" height="7" fill="#228b22"/>
<rect x="564" y="55" width="1" height="1" fill="#ffffff"/>
<rect x="562" y="56" width="1" height="1" fill="#ffffff"/>
<rect x="563" y="56" width="1" height="1" fill="#ffffff"/>
<rect x="565" y="56" width="1" height="1" fill="#ffffff"/>
<rect x="566" y="56" width="1" height="1" fill="#ffffff"/>
<rect x="561" y="57" width="1" height="1" fill="#ffffff"/>
<rect x="567" y="57" width="1" height="1" fill="#ffffff"/>
<rect x="561" y="58" width="1" height="1" fill="#ffffff"/>
<rect x="567" y="58" width="1" height="1" fill="#ffffff"/>
<rect x="561" y="59" width="1" height="1" fill="#ffffff"/>
<rect x="567" y="59" width="1" height="1" fill="#ffffff"/>
<rect x="562" y="60" width="1" height="1" fill="#ffffff"/>
<rect x="566" y="60" width="1" height="1" fill="#ffffff"/>
<rect x="563" y="61" width="1" height="1" fill="#ffffff"/>
<rect x="564" y="61" width="1" height="1" fill="#ffffff"/>
<rect x="565" y="61" width="1" height="1" fill="#ffffff"/>
<path d="M54.5,73.5 L55.5,72.5 L55.5,79.5 M61.5,72.5 L60.5,72.5 L60.5,73.5 L59.5,75.5 L59.5,76.5 L60.5,78.5 L61.5,79.5 L62.5,79.5 L63.5,78.5 L64.5,76.5 L64.5,75.5 L63.5,73.5 L63.5,72.5 L62.5,72.5 L61.5,72.5 M66.5,70.5 L65.5,71.5 L65.5,72.5 L65.5,73.5 L66.5,74.5 L67.5,74.5 L68.5,73.5 L68.5,72.5 L68.5,71.5 L67.5,70.5 L66.5,70.5" stroke="#ffffff" fill="none" stroke-width="1" stroke-linecap="square"/>
<path d="M49.5,149.5 L50.5,149.5 L51.5,148.5 L51.5,155.5 M56.5,148.5 L55.5,148.5 L55.5,149.5 L54.5,151.5 L54.5,152.5 L55.5,154.5 L56.5,155.5 L57.5,155.5 L58.5,154.5 L59.5,154.5 L59.5,152.5 L59.5,151.5 L59.5,149.5 L58.5,148.5 L57.5,148.5 L56.5,148.5 M61.5,148.5 L64.5,148.5 M65.5,147.5 L66.5,146.5 L67.5,146.5 L68.5,147.5 L67.5,148.5 L65.5,150.5 L68.5,150.5" stroke="#ffffff" fill="none" stroke-width="1" stroke-linecap="square"/>
<path d="M49.5,225.5 L50.5,225.5 L51.5,224.5 L51.5,231.5 M56.5,224.5 L55.5,224.5 L55.5,225.5 L54.5,227.5 L54.5,228.5 L55.5,230.5 L56.5,231.5 L57.5,231.5 L58.5,230.5 L59.5,230.5 L59.5,228.5 L59.5,227.5 L59.5,225.5 L58.5,224.5 L57.5,224.5 L56.5,224.5 M61.5,224.5 L64.5,224.5 M67.5,222.5 L65.5,225.5 L68.5,225.5 M67.5,222.5 L67.5,226.5" stroke="#ffffff" fill="none" stroke-width="1" stroke-linecap="square"/>
<path d="M49.5,301.5 L50.5,301.5 L51.5,300.5 L51.5,307.5 M56.5,300.5 L55.5,300.5 L55.5,301.5 L54.5,303.5 L54.5,304.5 L55.5,306.5 L56.5,307.5 L57.5,307.5 L58.5,306.5 L59.5,306.5 L59.5,304.5 L59.5,303.5 L59.5,301.5 L58.5,300.5 L57.5,300.5 L56.5,300.5 M61.5,300.5 L64.5,300.5 M68.5,299.5 L67.5,298.5 L66.5,298.5 L66.5,299.5 L65.5,300.5 L65.5,301.5 L66.5,301.5 L66.5,302.5 L67.5,302.5 L68.5,301.5 L68.5,300.5 L67.5,300.5 L66.5,300.5 L65.5,301.5" stroke="#ffffff" fill="none" stroke-width="1" stroke-linecap="square"/>
<path d="M66.5,368.5 L63.5,372.5 L68.5,372.5 M66.5,368.5 L66.5,375.5" stroke="#ffffff" fill="none" stroke-width="1" stroke-linecap="square"/>
<path d="M64.5,392.5 L64.5,391.5 L65.5,390.5 L66.5,390.5 L67.5,391.5 L67.5,392.5 L67.5,393.5 L66.5,394.5 L63.5,397.5 L68.5,397.5" stroke="#ffffff" fill="none" stroke-width="1" stroke-linecap="square"/>
<path d="M65.5,417.5 L64.5,417.5 L64.5,418.5 L63.5,420.5 L63.5,421.5 L64.5,422.5 L64.5,423.5 L65.5,424.5 L66.5,424.5 L67.5,423.5 L67.5,422.5 L68.5,421.5 L68.5,420.5 L67.5,418.5 L67.5,417.5 L66.5,417.5 L65.5,417.5" stroke="#ffffff" fill="none" stroke-width="1" stroke-linecap="square"/>
<path d="M55.5,447.5 L61.5,447.5 M64.5,445.5 L64.5,444.5 L65.5,443.5 L66.5,443.5 L67.5,444.5 L67.5,445.5 L67.5,446.5 L66.5,447.5 L63.5,450.5 L68.5,450.5" stroke="#ffffff" fill="none" stroke-width="1" stroke-linecap="square"/>
<path d="M55.5,470.5 L61.5,470.5 M66.5,466.5 L63.5,471.5 L68.5,471.5 M66.5,466.5 L66.5,473.5" stroke="#ffffff" fill="none" stroke-width="1" stroke-linecap="square"/>
<path d="M163.5,482.5 L164.5,482.5 L165.5,481.5 L165.5,487.5 M170.5,481.5 L169.5,481.5 L169.5,482.5 L168.5,483.5 L168.5,484.5 L169.5,486.5 L169.5,487.5 L170.5,487.5 L171.5,487.5 L172.5,487.5 L173.5,486.5 L173.5,484.5 L173.5,483.5 L173.5,482.5 L172.5,481.5 L171.5,481.5 L170.5,481.5" stroke="#ffffff" fill="none" stroke-width="1" stroke-linecap="square"/>
<path d="M567.5,482.5 L568.5,481.5 L568.5,487.5 M574.5,481.5 L573.5,481.5 L572.5,482.5 L572.5,483.5 L572.5,484.5 L572.5,486.5 L573.5,487.5 L574.5,487.5 L575.5,487.5 L576.5,487.5 L576.5,486.5 L577.5,484.5 L577.5,483.5 L576.5,482.5 L576.5,481.5 L575.5,481.5 L574.5,481.5 M580.5,481.5 L579.5,481.5 L579.5,482.5 L578.5,483.5 L578.5,484.5 L579.5,486.5 L579.5,487.5 L580.5,487.5 L581.5,487.5 L582.5,487.5 L583.5,486.5 L583.5,484.5 L583.5,483.5 L583.5,482.5 L582.5,481.5 L581.5,481.5 L580.5,481.5" stroke="#ffffff" fill="none" stroke-width="1" stroke-linecap="square"/>
<path d="M296.5,494.5 L296.5,500.5 M296.5,494.5 L300.5,494.5 M296.5,497.5 L298.5,497.5 M296.5,500.5 L300.5,500.5 M302.5,496.5 L302.5,500.5 M302.5,497.5 L303.5,496.5 L304.5,496.5 L305.5,496.5 L305.5,497.5 L305.5,500.5 M308.5,498.5 L311.5,498.5 L311.5,497.5 L311.5,496.5 L310.5,496.5 L309.5,496.5 L308.5,497.5 L308.5,498.5 L308.5,499.5 L309.5,500.5 L310.5,500.5 L311.5,500.5 L311.5,499.5 M314.5,496.5 L314.5,500.5 M314.5,498.5 L314.5,497.5 L315.5,496.5 L316.5,496.5 M321.5,496.5 L321.5,501.5 L321.5,502.5 L320.5,503.5 L319.5,503.5 L318.5,502.5 M321.5,497.5 L321.5,496.5 L320.5,496.5 L319.5,496.5 L318.5,496.5 L318.5,497.5 L317.5,498.5 L318.5,499.5 L318.5,500.5 L319.5,500.5 L320.5,500.5 L321.5,500.5 L321.5,499.5 M323.5,496.5 L325.5,500.5 M327.5,496.5 L325.5,500.5 L324.5,502.5 L323.5,503.5 M336.5,492.5 L335.5,493.5 L335.5,494.5 L334.5,495.5 L334.5,497.5 L334.5,498.5 L334.5,500.5 L335.5,501.5 L335.5,502.5 L336.5,503.5 M338.5,494.5 L338.5,500.5 M341.5,496.5 L338.5,499.5 M340.5,498.5 L342.5,500.5 M343.5,498.5 L347.5,498.5 L347.5,497.5 L346.5,496.5 L345.5,496.5 L344.5,496.5 L344.5,497.5 L343.5,498.5 L344.5,499.5 L344.5,500.5 L345.5,500.5 L346.5,500.5 L347.5,499.5 M348.5,494.5 L351.5,500.5 M353.5,494.5 L351.5,500.5 M355.5,492.5 L355.5,493.5 L356.5,494.5 L357.5,495.5 L357.5,497.5 L357.5,498.5 L357.5,500.5 L356.5,501.5 L355.5,502.5 L355.5,503.5" stroke="#ffffff" fill="none" stroke-width="1" stroke-linecap="square"/>
<path d="M32.5,255.5 L38.5,255.5 M32.5,255.5 L32.5,252.5 L32.5,251.5 L33.5,250.5 L34.5,250.5 L34.5,251.5 L35.5,251.5 L35.5,252.5 L35.5,255.5 M35.5,253.5 L38.5,250.5 M34.5,245.5 L38.5,245.5 M35.5,245.5 L34.5,245.5 L34.5,246.5 L34.5,247.5 L34.5,248.5 L35.5,248.5 L36.5,249.5 L37.5,248.5 L38.5,248.5 L38.5,247.5 L38.5,246.5 L38.5,245.5 L37.5,245.5 M32.5,242.5 L37.5,242.5 L38.5,242.5 L38.5,241.5 L38.5,240.5 M34.5,243.5 L34.5,241.5 M36.5,239.5 L36.5,235.5 L35.5,235.5 L34.5,235.5 L34.5,236.5 L34.5,237.5 L34.5,238.5 L35.5,238.5 L36.5,239.5 L37.5,238.5 L38.5,238.5 L38.5,237.5 L38.5,236.5 L38.5,235.5 L37.5,235.5 M30.5,225.5 L31.5,226.5 L32.5,226.5 L33.5,227.5 L35.5,227.5 L36.5,227.5 L38.5,227.5 L39.5,226.5 L40.5,226.5 L41.5,225.5 M35.5,219.5 L34.5,220.5 L34.5,221.5 L34.5,222.5 L35.5,223.5 L36.5,223.5 L37.5,223.5 L38.5,222.5 L38.5,221.5 L38.5,220.5 L37.5,219.5 M34.5,216.5 L34.5,217.5 L35.5,217.5 L36.5,218.5 L37.5,217.5 L38.5,217.5 L38.5,216.5 L38.5,215.5 L38.5,214.5 L37.5,214.5 L36.5,213.5 L35.5,214.5 L34.5,214.5 L34.5,215.5 L34.5,216.5 M34.5,211.5 L37.5,211.5 L38.5,211.5 L38.5,210.5 L38.5,209.5 L37.5,208.5 M34.5,208.5 L38.5,208.5 M34.5,205.5 L38.5,205.5 M35.5,205.5 L34.5,204.5 L34.5,203.5 L34.5,202.5 L35.5,202.5 L38.5,202.5 M32.5,199.5 L37.5,199.5 L38.5,198.5 L38.5,197.5 M34.5,200.5 L34.5,197.5 M35.5,192.5 L34.5,192.5 L34.5,193.5 L34.5,194.5 L34.5,195.5 L35.5,195.5 L36.5,195.5 L36.5,194.5 L36.5,193.5 L36.5,192.5 L37.5,192.5 L38.5,192.5 L38.5,193.5 L38.5,194.5 L38.5,195.5 L37.5,195.5 M35.5,181.5 L34.5,182.5 L34.5,183.5 L34.5,184.5 L34.5,185.5 L35.5,185.5 L36.5,185.5 L36.5,184.5 L36.5,182.5 L37.5,181.5 L38.5,182.5 L38.5,183.5 L38.5,184.5 L38.5,185.5 L37.5,185.5 M31.5,180.5 L31.5,176.5 M30.5,174.5 L29.5,174.5 L33.5,174.5 M32.5,165.5 L38.5,165.5 M34.5,162.5 L37.5,165.5 M36.5,164.5 L38.5,162.5 M36.5,160.5 L36.5,157.5 L35.5,157.5 L34.5,157.5 L34.5,158.5 L34.5,159.5 L35.5,160.5 L36.5,160.5 L37.5,160.5 L38.5,159.5 L38.5,158.5 L38.5,157.5 L37.5,157.5 M32.5,155.5 L38.5,153.5 M32.5,150.5 L38.5,153.5 M31.5,149.5 L31.5,146.5 M30.5,144.5 L30.5,143.5 L29.5,143.5 L33.5,143.5 M30.5,140.5 L31.5,140.5 L32.5,139.5 L33.5,138.5 L35.5,138.5 L36.5,138.5 L38.5,138.5 L39.5,139.5 L40.5,140.5 L41.5,140.5" stroke="#ffffff" fill="none" stroke-width="1" stroke-linecap="square"/>
<path d="M40.5,429.5 L39.5,430.5 L39.5,431.5 L39.5,432.5 L39.5,433.5 L40.5,434.5 L41.5,433.5 L41.5,432.5 L42.5,431.5 L42.5,430.5 L43.5,430.5 L43.5,429.5 L44.5,429.5 L45.5,430.5 L45.5,431.5 L45.5,432.5 L45.5,433.5 L44.5,434.5 M39.5,428.5 L39.5,427.5 L38.5,427.5 L39.5,428.5 M41.5,427.5 L45.5,427.5 M41.5,421.5 L46.5,421.5 L47.5,422.5 L47.5,423.5 L47.5,424.5 M42.5,421.5 L41.5,422.5 L41.5,423.5 L41.5,424.5 L42.5,425.5 L43.5,425.5 L44.5,425.5 L45.5,424.5 L45.5,423.5 L45.5,422.5 L44.5,421.5 M41.5,419.5 L45.5,419.5 M42.5,419.5 L41.5,418.5 L41.5,417.5 L41.5,416.5 L42.5,416.5 L45.5,416.5 M42.5,416.5 L41.5,415.5 L41.5,414.5 L41.5,413.5 L42.5,412.5 L45.5,412.5 M41.5,406.5 L45.5,406.5 M42.5,406.5 L41.5,407.5 L41.5,408.5 L41.5,409.5 L42.5,410.5 L43.5,410.5 L44.5,410.5 L45.5,409.5 L45.5,408.5 L45.5,407.5 L44.5,406.5" stroke="#ffffff" fill="none" stroke-width="1" stroke-linecap="square"/></svg></body></html>
